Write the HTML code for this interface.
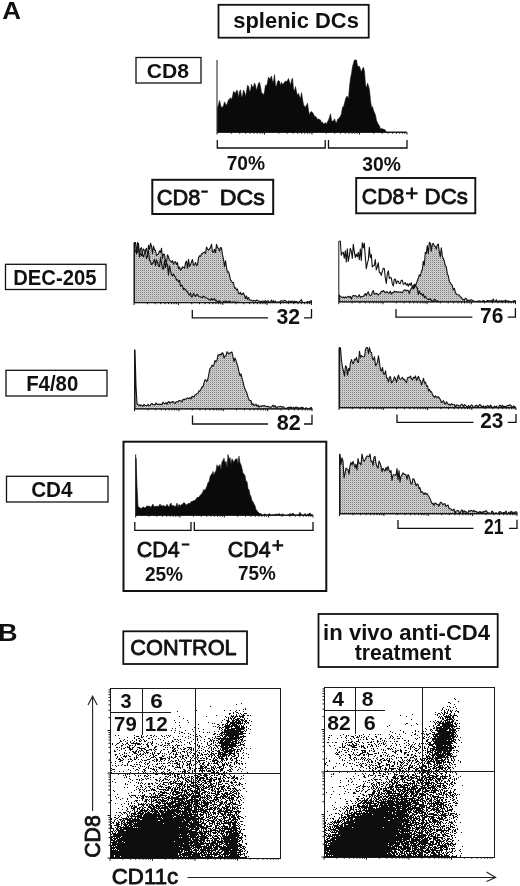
<!DOCTYPE html>
<html lang="en"><head><meta charset="utf-8"><title>Figure: splenic DC subsets</title>
<style>html,body{margin:0;padding:0;background:#fff}svg{display:block}text{font-family:"Liberation Sans", sans-serif;font-weight:bold;fill:#111}text.m{font-weight:normal;stroke:#111;stroke-width:.85px;stroke-linejoin:round}</style></head><body>
<svg width="520" height="886" viewBox="0 0 520 886">
<defs><pattern id="stip" width="2" height="2" patternUnits="userSpaceOnUse"><rect width="2" height="2" fill="#d0d0d0"/><rect width="1" height="1" fill="#848484"/><rect x="1" y="1" width="1" height="1" fill="#bdbdbd"/></pattern><filter id="soft" x="-2%" y="-2%" width="104%" height="104%"><feGaussianBlur stdDeviation="0.5"/></filter></defs>
<rect width="520" height="886" fill="#fff"/>
<text x="2.35" y="19" font-size="24" textLength="18.79" lengthAdjust="spacingAndGlyphs">A</text>
<text x="-2.06" y="641" font-size="24" textLength="19.57" lengthAdjust="spacingAndGlyphs">B</text>
<rect x="218.5" y="4.8" width="150.2" height="32.9" fill="#fff" stroke="#111" stroke-width="1.8"/>
<text x="233.23" y="27.9" font-size="21.5" textLength="125.63" lengthAdjust="spacingAndGlyphs">splenic DCs</text>
<rect x="136" y="57.5" width="65" height="25.5" fill="#fff" stroke="#111" stroke-width="1.3"/>
<text x="146.86" y="77.8" font-size="21" textLength="42.24" lengthAdjust="spacingAndGlyphs">CD8</text>
<path d="M217 60V132.3H407" fill="none" stroke="#1a1a1a" stroke-width="1"/>
<path d="M217 132.3v2.2M231.3 132.3v1.4M239.7 132.3v1.4M245.6 132.3v1.4M250.2 132.3v1.4M254 132.3v1.4M257.1 132.3v1.4M259.9 132.3v1.4M262.3 132.3v1.4M264.5 132.3v2.2M278.8 132.3v1.4M287.2 132.3v1.4M293.1 132.3v1.4M297.7 132.3v1.4M301.5 132.3v1.4M304.6 132.3v1.4M307.4 132.3v1.4M309.8 132.3v1.4M312 132.3v2.2M326.3 132.3v1.4M334.7 132.3v1.4M340.6 132.3v1.4M345.2 132.3v1.4M349 132.3v1.4M352.1 132.3v1.4M354.9 132.3v1.4M357.3 132.3v1.4M359.5 132.3v2.2M373.8 132.3v1.4M382.2 132.3v1.4M388.1 132.3v1.4M392.7 132.3v1.4M396.5 132.3v1.4M399.6 132.3v1.4M402.4 132.3v1.4M404.8 132.3v1.4M407 132.3v2.2" stroke="#111" stroke-width="1" fill="none"/>
<polygon points="217.5,132.3 217.5,107.9 218.5,104.9 219.5,100.5 220.5,104.5 221.5,108 222.5,106.7 223.5,105.9 224.5,101.9 225.5,103.7 226.5,105.4 227.5,103 228.5,99.8 229.5,99.3 230.5,97.8 231.5,99.4 232.5,96.6 233.5,91.4 234.5,92.2 235.5,93.5 236.5,90.4 237.5,90.8 238.5,97.7 239.5,91.8 240.5,89.8 241.5,97 242.5,95.9 243.5,90.1 244.5,92 245.5,96.5 246.5,91.8 247.5,85.4 248.5,86.1 249.5,91.2 250.5,91.1 251.5,84.3 252.5,87.1 253.5,87.1 254.5,83.1 255.5,85.2 256.5,90.5 257.5,87.2 258.5,83.2 259.5,82.3 260.5,86.5 261.5,93.3 262.5,93.3 263.5,95.2 264.5,92 265.5,85 266.5,86.3 267.5,82.2 268.5,76.9 269.5,78.9 270.5,78.3 271.5,76 272.5,81.5 273.5,81.6 274.5,74.6 275.5,85.7 276.5,86.4 277.5,81.4 278.5,80.5 279.5,81.3 280.5,85.6 281.5,82.4 282.5,84.3 283.5,84 284.5,82.1 285.5,81.1 286.5,81.6 287.5,80.5 288.5,78.5 289.5,82.1 290.5,85.3 291.5,80.3 292.5,78.2 293.5,89.1 294.5,90.9 295.5,86.6 296.5,91.7 297.5,95.4 298.5,93.5 299.5,96.5 300.5,98.5 301.5,92.6 302.5,98.9 303.5,104.7 304.5,106.3 305.5,107.2 306.5,105.2 307.5,103.2 308.5,110.3 309.5,115 310.5,112.2 311.5,111.5 312.5,112.5 313.5,114.3 314.5,116.2 315.5,116.6 316.5,117.4 317.5,119.5 318.5,119 319.5,119.6 320.5,120 321.5,122.7 322.5,122 323.5,124.1 324.5,123.6 325.5,122.7 326.5,124.2 327.5,121.8 328.5,120.2 329.5,117.2 330.5,113.8 331.5,120.2 332.5,121.2 333.5,121.1 334.5,118.8 335.5,122 336.5,122.9 337.5,119.5 338.5,119.1 339.5,117.2 340.5,116.6 341.5,113.4 342.5,107.1 343.5,107 344.5,103.2 345.5,99.2 346.5,96.6 347.5,96.6 348.5,99.1 349.5,86.5 350.5,78.5 351.5,73.6 352.5,66.7 353.5,63.1 354.5,60 355.5,60 356.5,60 357.5,66 358.5,66.5 359.5,66.4 360.5,69.8 361.5,72 362.5,68.6 363.5,67.3 364.5,71.6 365.5,84.8 366.5,87.9 367.5,83.3 368.5,85.7 369.5,90.5 370.5,100.6 371.5,107.5 372.5,106.6 373.5,110.6 374.5,112.6 375.5,115.2 376.5,120.5 377.5,122.7 378.5,124.5 379.5,126.1 380.5,129.3 381.5,128.5 382.5,128.9 383.5,129.2 384.5,129.6 385.5,130.2 386.5,132.3 387.5,131.9 388.5,132 389.5,132 390.5,132 391.5,132 392.5,132 393.5,132 394.5,132 395.5,132.1 396.5,132 397.5,132 398.5,132 399.5,132.1 400.5,132.1 401.5,132.1 402.5,132.1 403.5,132.1 404.5,132.1 405.5,132.1 406.5,132.1 406.5,132.3" fill="#0a0a0a" stroke="#111" stroke-width="0.6" stroke-linejoin="round"/>
<path d="M217.3 140V148H325.2V140 M328.5 140V148H407V140" fill="none" stroke="#111" stroke-width="1.3"/>
<text x="226.69" y="169.9" font-size="21" textLength="38.38" lengthAdjust="spacingAndGlyphs">70%</text>
<text x="362.37" y="170.9" font-size="21" textLength="38.60" lengthAdjust="spacingAndGlyphs">30%</text>
<rect x="152.3" y="179.8" width="120.9" height="34.2" fill="#fff" stroke="#111" stroke-width="2"/>
<text x="156.83" y="204.5" font-size="22.3" textLength="43.62" lengthAdjust="spacingAndGlyphs" class="m">CD8</text>
<path d="M201.3 191.6H207.8" stroke="#111" stroke-width="2.2"/>
<text x="219.87" y="204.5" font-size="22.3" textLength="45.10" lengthAdjust="spacingAndGlyphs" class="m">DCs</text>
<rect x="356.2" y="178" width="119.1" height="35.3" fill="#fff" stroke="#111" stroke-width="1.9"/>
<text x="361.87" y="204" font-size="22" textLength="42.37" lengthAdjust="spacingAndGlyphs" class="m">CD8</text>
<path d="M406 193.4H417.6M411.8 187.6V199.2" stroke="#111" stroke-width="2.3"/>
<text x="424.64" y="204" font-size="22" textLength="43.30" lengthAdjust="spacingAndGlyphs" class="m">DCs</text>
<rect x="5.5" y="264.3" width="100.5" height="25.2" fill="#fff" stroke="#111" stroke-width="1.3"/>
<text x="13.18" y="284.5" font-size="21.3" textLength="83.33" lengthAdjust="spacingAndGlyphs">DEC-205</text>
<rect x="6" y="370.3" width="101" height="25.7" fill="#fff" stroke="#111" stroke-width="1.3"/>
<text x="26.17" y="390.5" font-size="21.3" textLength="52.14" lengthAdjust="spacingAndGlyphs">F4/80</text>
<rect x="6.5" y="476.3" width="101.5" height="25.7" fill="#fff" stroke="#111" stroke-width="1.3"/>
<text x="31.17" y="497" font-size="21.3" textLength="41.39" lengthAdjust="spacingAndGlyphs">CD4</text>
<polygon points="134.5,302.5 134.5,242.5 135.5,242.5 136.5,253.9 137.5,242.5 138.5,248.5 139.5,253 140.5,253.7 141.5,255.8 142.5,251.2 143.5,248.9 144.5,250.9 145.5,251.1 146.5,258.7 147.5,256.2 148.5,245.4 149.5,249.4 150.5,243.2 151.5,246 152.5,253.8 153.5,246.1 154.5,249.7 155.5,250.5 156.5,255.4 157.5,254.3 158.5,253.9 159.5,250.9 160.5,252.6 161.5,248.2 162.5,258.6 163.5,253.9 164.5,254.5 165.5,260.8 166.5,262.9 167.5,254.8 168.5,256.8 169.5,260.1 170.5,260.9 171.5,262.2 172.5,260.7 173.5,264.2 174.5,262.3 175.5,261.6 176.5,264.5 177.5,262.6 178.5,268.8 179.5,266.9 180.5,270.5 181.5,268.9 182.5,266.8 183.5,267.4 184.5,268.3 185.5,262.8 186.5,261.1 187.5,268.3 188.5,259.4 189.5,266.4 190.5,264.8 191.5,261.8 192.5,259.5 193.5,265.1 194.5,264.9 195.5,262.4 196.5,265.6 197.5,264.7 198.5,257.8 199.5,255.8 200.5,256.5 201.5,254 202.5,253.3 203.5,252.8 204.5,252.1 205.5,253.5 206.5,247 207.5,249.1 208.5,250.1 209.5,248.9 210.5,247.5 211.5,244.3 212.5,252.2 213.5,252.2 214.5,249.3 215.5,252.6 216.5,244.2 217.5,247.6 218.5,248.4 219.5,251.1 220.5,247.5 221.5,248 222.5,254.9 223.5,259.4 224.5,266.7 225.5,260.7 226.5,267.5 227.5,272.2 228.5,271.7 229.5,275.1 230.5,279.9 231.5,281.1 232.5,282.8 233.5,282.5 234.5,288 235.5,287.7 236.5,289.9 237.5,289 238.5,293.4 239.5,293.6 240.5,292.3 241.5,294.8 242.5,294 243.5,293 244.5,295.5 245.5,298.5 246.5,295.9 247.5,299.4 248.5,297.6 249.5,299.8 250.5,300.1 251.5,300.4 252.5,300.9 253.5,300.5 254.5,300.6 255.5,301.3 256.5,300.1 257.5,300.6 258.5,300.9 259.5,301.2 260.5,301.5 261.5,301.5 262.5,301 263.5,301.2 264.5,301.5 265.5,300.7 266.5,301.8 267.5,301.1 268.5,300.9 269.5,302.5 270.5,301.9 271.5,300.1 272.5,302.4 273.5,300.6 274.5,302.5 275.5,301.2 276.5,302.5 277.5,302.1 278.5,302 279.5,302.1 280.5,300.8 281.5,301 282.5,300.9 283.5,301.5 284.5,300.2 285.5,300.8 286.5,301.4 287.5,302.5 288.5,301 289.5,301.2 290.5,301.6 291.5,301.2 292.5,301.1 293.5,302 294.5,301.2 295.5,301.5 296.5,301.5 297.5,302.1 298.5,302.2 299.5,301.7 300.5,300.6 301.5,299.7 302.5,302.2 303.5,302.5 304.5,302.2 305.5,302.5 306.5,302.2 307.5,301.5 308.5,302.5 309.5,301.3 310.5,301.2 311.5,300.6 311.5,302.5" fill="url(#stip)" stroke="#111" stroke-width="1.1" stroke-linejoin="round"/>
<polyline points="134.5,249 135.5,251.3 136.5,253.1 137.5,252.4 138.5,243.2 139.5,256.9 140.5,248.5 141.5,247.8 142.5,255.3 143.5,256.8 144.5,253.3 145.5,250.3 146.5,248.3 147.5,253.5 148.5,251.1 149.5,260.1 150.5,261.7 151.5,264.5 152.5,263.7 153.5,262.1 154.5,259.2 155.5,265.6 156.5,259.8 157.5,262.4 158.5,266 159.5,266.6 160.5,257.6 161.5,263.2 162.5,268.8 163.5,269.1 164.5,260 165.5,267.8 166.5,262.9 167.5,265.1 168.5,275.2 169.5,265.9 170.5,270.7 171.5,274.6 172.5,275.9 173.5,274 174.5,276.2 175.5,277.1 176.5,280.2 177.5,279.6 178.5,281.9 179.5,280.5 180.5,286.4 181.5,285.2 182.5,286 183.5,289.7 184.5,288.6 185.5,289.5 186.5,291.3 187.5,291.4 188.5,294.4 189.5,295.1 190.5,293.1 191.5,296.9 192.5,296.5 193.5,293.4 194.5,295 195.5,296.5 196.5,294.4 197.5,294.6 198.5,296.5 199.5,296.7 200.5,296.7 201.5,297.5 202.5,297.8 203.5,296.1 204.5,296.8 205.5,297.6 206.5,298.2 207.5,298.6 208.5,299 209.5,299.8 210.5,300.3 211.5,298.5 212.5,300.2 213.5,299.6 214.5,298.4 215.5,300.7 216.5,300.2 217.5,302.5 218.5,301.5 219.5,300.8 220.5,301.9 221.5,302.5 222.5,302.5 223.5,301.3 224.5,302.5 225.5,301 226.5,301.5 227.5,302.1 228.5,301.9 229.5,301.1 230.5,302 231.5,302.5 232.5,302 233.5,302.1 234.5,302.1 235.5,302.1 236.5,302.2 237.5,302.2 238.5,302.3 239.5,302.3" fill="none" stroke="#111" stroke-width="1.1" stroke-linejoin="round"/>
<path d="M134 242.5V302.8H311.5" fill="none" stroke="#1a1a1a" stroke-width="1"/>
<path d="M134 302.8v2.2M147.4 302.8v1.4M155.2 302.8v1.4M160.7 302.8v1.4M165 302.8v1.4M168.5 302.8v1.4M171.5 302.8v1.4M174.1 302.8v1.4M176.3 302.8v1.4M178.4 302.8v2.2M191.7 302.8v1.4M199.5 302.8v1.4M205.1 302.8v1.4M209.4 302.8v1.4M212.9 302.8v1.4M215.9 302.8v1.4M218.4 302.8v1.4M220.7 302.8v1.4M222.8 302.8v2.2M236.1 302.8v1.4M243.9 302.8v1.4M249.5 302.8v1.4M253.8 302.8v1.4M257.3 302.8v1.4M260.3 302.8v1.4M262.8 302.8v1.4M265.1 302.8v1.4M267.1 302.8v2.2M280.5 302.8v1.4M288.3 302.8v1.4M293.8 302.8v1.4M298.1 302.8v1.4M301.7 302.8v1.4M304.6 302.8v1.4M307.2 302.8v1.4M309.5 302.8v1.4M311.5 302.8v2.2" stroke="#111" stroke-width="1" fill="none"/>
<path d="M192.3 310V317.8H268 M304 317.8H311.5V309" fill="none" stroke="#111" stroke-width="1.3"/>
<text x="276.52" y="324" font-size="21.3" textLength="23.62" lengthAdjust="spacingAndGlyphs">32</text>
<polygon points="339.3,301.8 339.3,295.1 340.3,296.4 341.3,296.9 342.3,297.4 343.3,296.9 344.3,297.9 345.3,296.8 346.3,297.7 347.3,296.9 348.3,296.3 349.3,297.3 350.3,296.3 351.3,299.3 352.3,296.4 353.3,295.5 354.3,295.9 355.3,295.5 356.3,296.4 357.3,297.2 358.3,296.3 359.3,294.8 360.3,297.4 361.3,296.6 362.3,296.7 363.3,296.3 364.3,295.2 365.3,293.5 366.3,295.6 367.3,293 368.3,291.9 369.3,294.9 370.3,295.6 371.3,295.1 372.3,292.3 373.3,290.5 374.3,294.3 375.3,293.7 376.3,293.2 377.3,293.9 378.3,295.1 379.3,293.7 380.3,293.4 381.3,291.3 382.3,291.6 383.3,290.5 384.3,291.5 385.3,293 386.3,291.9 387.3,291.7 388.3,293.2 389.3,292.9 390.3,291.2 391.3,294.2 392.3,292.6 393.3,292.8 394.3,291.2 395.3,291.9 396.3,291.6 397.3,292.3 398.3,291.8 399.3,292.2 400.3,292.1 401.3,292.1 402.3,292.8 403.3,291.2 404.3,290.1 405.3,289.8 406.3,290.9 407.3,290.2 408.3,290.6 409.3,293.7 410.3,290.1 411.3,288.4 412.3,287.4 413.3,288.9 414.3,284.2 415.3,285.6 416.3,283.8 417.3,280.8 418.3,278.3 419.3,274.7 420.3,276.3 421.3,271.5 422.3,269.9 423.3,261.3 424.3,265.2 425.3,252.2 426.3,253.3 427.3,245.6 428.3,253.8 429.3,242.5 430.3,243.2 431.3,251.3 432.3,243.9 433.3,243.4 434.3,245.9 435.3,246.2 436.3,249.2 437.3,244.9 438.3,244 439.3,251.8 440.3,256.9 441.3,247.8 442.3,255.9 443.3,258.5 444.3,261.2 445.3,265.6 446.3,266.8 447.3,273.7 448.3,275.8 449.3,281.2 450.3,282.9 451.3,284 452.3,285.6 453.3,290 454.3,288.4 455.3,291.7 456.3,294.2 457.3,294.8 458.3,294.7 459.3,295.2 460.3,296.9 461.3,297.3 462.3,299.3 463.3,299.4 464.3,300.4 465.3,298.2 466.3,298.6 467.3,300.5 468.3,300.2 469.3,300.4 470.3,300 471.3,299.8 472.3,300.3 473.3,300.9 474.3,301.2 475.3,301.6 476.3,301.8 477.3,301 478.3,301.6 479.3,300.8 480.3,301 481.3,301.8 482.3,301.3 483.3,300.4 484.3,300.9 485.3,301.6 486.3,301.4 487.3,300.5 488.3,300.8 489.3,300.7 490.3,301.1 491.3,300.4 492.3,300.9 493.3,299.1 494.3,301.3 495.3,301.6 496.3,299.7 497.3,301.1 498.3,301.7 499.3,300.6 500.3,301.8 501.3,300.7 502.3,301.1 503.3,300.9 504.3,301.8 505.3,300.1 506.3,300.9 507.3,301.2 508.3,300.9 509.3,301.8 510.3,301.2 511.3,301.8 512.3,301.8 513.3,300.9 514.3,301 515.3,300.5 515.3,301.8" fill="url(#stip)" stroke="#111" stroke-width="1.1" stroke-linejoin="round"/>
<polyline points="339.3,241 340.3,241 341.3,255.3 342.3,252.9 343.3,252.3 344.3,258.2 345.3,250.9 346.3,262 347.3,248.8 348.3,261.5 349.3,255.9 350.3,248.4 351.3,251.2 352.3,258.5 353.3,244.4 354.3,251.6 355.3,257.5 356.3,254.1 357.3,256.8 358.3,252.4 359.3,259.6 360.3,249 361.3,260.4 362.3,242.7 363.3,247.8 364.3,243.1 365.3,257.1 366.3,268.7 367.3,263.4 368.3,260.1 369.3,247.4 370.3,257.6 371.3,254.6 372.3,266.9 373.3,265.6 374.3,265.5 375.3,259.5 376.3,269.9 377.3,266.8 378.3,262.7 379.3,272.6 380.3,272.6 381.3,275.4 382.3,271.4 383.3,268.2 384.3,268.5 385.3,278 386.3,283.4 387.3,273.8 388.3,270.8 389.3,278.4 390.3,277.4 391.3,277.9 392.3,283.7 393.3,285.9 394.3,279.4 395.3,279.1 396.3,283.7 397.3,281 398.3,281.2 399.3,283.4 400.3,283.6 401.3,280.2 402.3,280.2 403.3,284.3 404.3,283.9 405.3,282.5 406.3,285.1 407.3,283.7 408.3,286.3 409.3,283.6 410.3,285.1 411.3,282.8 412.3,287.3 413.3,285.6 414.3,288.1 415.3,285.1 416.3,286.6 417.3,288.2 418.3,294.6 419.3,291 420.3,293.9 421.3,293.6 422.3,295.5 423.3,293.9 424.3,297.7 425.3,296.3 426.3,298.2 427.3,298.9 428.3,299.4 429.3,299.5 430.3,298.6 431.3,300.1 432.3,301.6 433.3,301.1 434.3,299.4 435.3,299.5 436.3,301.8 437.3,300.8 438.3,301.4 439.3,301.6" fill="none" stroke="#111" stroke-width="1.1" stroke-linejoin="round"/>
<path d="M338.8 241V302H515.5" fill="none" stroke="#1a1a1a" stroke-width="1"/>
<path d="M338.8 302v2.2M352.1 302v1.4M359.9 302v1.4M365.4 302v1.4M369.7 302v1.4M373.2 302v1.4M376.1 302v1.4M378.7 302v1.4M381 302v1.4M383 302v2.2M396.3 302v1.4M404.1 302v1.4M409.6 302v1.4M413.9 302v1.4M417.3 302v1.4M420.3 302v1.4M422.9 302v1.4M425.1 302v1.4M427.1 302v2.2M440.4 302v1.4M448.2 302v1.4M453.7 302v1.4M458 302v1.4M461.5 302v1.4M464.5 302v1.4M467 302v1.4M469.3 302v1.4M471.3 302v2.2M484.6 302v1.4M492.4 302v1.4M497.9 302v1.4M502.2 302v1.4M505.7 302v1.4M508.7 302v1.4M511.2 302v1.4M513.5 302v1.4M515.5 302v2.2" stroke="#111" stroke-width="1" fill="none"/>
<path d="M396 309V317.2H472.4 M507.7 317.2H515.4V308" fill="none" stroke="#111" stroke-width="1.3"/>
<text x="480.11" y="322.6" font-size="21.3" textLength="23.32" lengthAdjust="spacingAndGlyphs">76</text>
<polygon points="135,408.8 135,350 136,386.6 137,403.4 138,405 139,404.7 140,405.9 141,404.8 142,405.7 143,406.3 144,404.4 145,405.5 146,405.5 147,405.7 148,404.3 149,405.8 150,405.4 151,404.2 152,403.4 153,404.8 154,404.5 155,405 156,402.8 157,404.2 158,404.4 159,403.9 160,404.8 161,404 162,404.6 163,402.2 164,403.3 165,403.6 166,402.6 167,404.2 168,402 169,401.6 170,403.3 171,402 172,402.5 173,401.3 174,402.9 175,403.5 176,401.7 177,401.9 178,401.8 179,400.6 180,400.7 181,400.9 182,401.8 183,399.3 184,399.7 185,399 186,399.2 187,398.1 188,398.1 189,398.7 190,397.6 191,399 192,396.4 193,396.6 194,397.1 195,394.9 196,394.8 197,393.5 198,393.2 199,390.7 200,391 201,389 202,386.7 203,386.9 204,382.9 205,379.7 206,380.3 207,381.4 208,378.5 209,373.3 210,368.4 211,367.6 212,365.1 213,366.1 214,364.5 215,360.5 216,361.8 217,360.3 218,354.9 219,355.2 220,354 221,355.1 222,352.9 223,353.1 224,358 225,355.9 226,355.7 227,351.7 228,353 229,354 230,352.8 231,352.4 232,352.1 233,357 234,361.5 235,358 236,360.6 237,363.8 238,367.1 239,371.9 240,375.6 241,373.9 242,378.1 243,381.7 244,386.1 245,389 246,391.2 247,393.4 248,397.1 249,399.5 250,400.7 251,400.5 252,404.9 253,403.7 254,405.4 255,405.2 256,404.1 257,406.3 258,405 259,407.2 260,406.1 261,406.5 262,405.7 263,406.1 264,405.6 265,406 266,406.1 267,406.9 268,406.2 269,407 270,407.1 271,407.3 272,406.4 273,405.2 274,406.9 275,405.6 276,407.6 277,407.4 278,406.8 279,406.8 280,406.5 281,406.3 282,407.4 283,406.6 284,407.3 285,408.8 286,408.2 287,408 288,407.6 289,407.2 290,407.9 291,406.8 292,408.4 293,407.8 294,407.2 295,408.6 296,407 297,407.2 298,408 299,407.9 300,408 301,407.9 302,407.2 303,407.6 304,408.8 305,408.8 306,407.7 307,408.8 308,408.8 309,408.7 310,408.3 311,407.3 312,408.3 312,408.8" fill="url(#stip)" stroke="#111" stroke-width="1.1" stroke-linejoin="round"/>
<path d="M134.5 349.5V409H312" fill="none" stroke="#1a1a1a" stroke-width="1"/>
<path d="M134.5 409v2.2M147.9 409v1.4M155.7 409v1.4M161.2 409v1.4M165.5 409v1.4M169 409v1.4M172 409v1.4M174.6 409v1.4M176.8 409v1.4M178.9 409v2.2M192.2 409v1.4M200 409v1.4M205.6 409v1.4M209.9 409v1.4M213.4 409v1.4M216.4 409v1.4M218.9 409v1.4M221.2 409v1.4M223.2 409v2.2M236.6 409v1.4M244.4 409v1.4M250 409v1.4M254.3 409v1.4M257.8 409v1.4M260.8 409v1.4M263.3 409v1.4M265.6 409v1.4M267.6 409v2.2M281 409v1.4M288.8 409v1.4M294.3 409v1.4M298.6 409v1.4M302.2 409v1.4M305.1 409v1.4M307.7 409v1.4M310 409v1.4M312 409v2.2" stroke="#111" stroke-width="1" fill="none"/>
<path d="M192.5 415.5V424H268 M304 424H312V414.7" fill="none" stroke="#111" stroke-width="1.3"/>
<text x="276.85" y="430" font-size="21.3" textLength="24.01" lengthAdjust="spacingAndGlyphs">82</text>
<polygon points="339.5,407.6 339.5,347.5 340.5,347.9 341.5,361 342.5,367 343.5,371.2 344.5,376.1 345.5,365.8 346.5,366.9 347.5,375.2 348.5,368.5 349.5,370.6 350.5,362.4 351.5,359.6 352.5,363.2 353.5,363.4 354.5,359.2 355.5,360 356.5,357.4 357.5,361.9 358.5,362.5 359.5,351.4 360.5,357.4 361.5,355.6 362.5,356.4 363.5,356.8 364.5,356.7 365.5,349.2 366.5,347.5 367.5,347.5 368.5,353.6 369.5,347.5 370.5,352.2 371.5,352.5 372.5,358.9 373.5,359.9 374.5,356.7 375.5,365.5 376.5,364.8 377.5,361.6 378.5,355.9 379.5,362.5 380.5,370.3 381.5,371 382.5,367.5 383.5,374 384.5,374.3 385.5,370.8 386.5,377.7 387.5,378.2 388.5,382 389.5,377.1 390.5,376.7 391.5,383 392.5,381.8 393.5,379.8 394.5,376.7 395.5,378.7 396.5,382.4 397.5,378 398.5,375 399.5,378.8 400.5,379.2 401.5,378.6 402.5,377.3 403.5,379.6 404.5,379.3 405.5,381.5 406.5,382.7 407.5,377.7 408.5,377.3 409.5,377.3 410.5,376.1 411.5,378.8 412.5,380 413.5,377.3 414.5,378 415.5,375.9 416.5,380.6 417.5,378.3 418.5,376.2 419.5,380.1 420.5,380.6 421.5,384.9 422.5,381.9 423.5,378.3 424.5,383.2 425.5,382.1 426.5,386.2 427.5,385.7 428.5,391 429.5,389.4 430.5,391.7 431.5,391.7 432.5,394.6 433.5,395.8 434.5,397.5 435.5,395.9 436.5,397.3 437.5,397.1 438.5,396.9 439.5,398.4 440.5,399.8 441.5,402.5 442.5,402.1 443.5,400.6 444.5,403.5 445.5,404 446.5,401.7 447.5,403.4 448.5,404.6 449.5,404.4 450.5,405.2 451.5,403.7 452.5,404.5 453.5,404.8 454.5,404.5 455.5,407.3 456.5,405.1 457.5,405 458.5,405.6 459.5,406.3 460.5,405.5 461.5,404.1 462.5,404.9 463.5,406.4 464.5,404.6 465.5,405.3 466.5,406.4 467.5,407.6 468.5,405.5 469.5,407.5 470.5,405.9 471.5,404.9 472.5,405.6 473.5,407.2 474.5,407.2 475.5,405.6 476.5,405.2 477.5,406.4 478.5,406.6 479.5,404.5 480.5,404.9 481.5,406.3 482.5,407 483.5,405.9 484.5,407.6 485.5,406.3 486.5,406.5 487.5,405.6 488.5,406.1 489.5,407.6 490.5,405 491.5,406.1 492.5,407.6 493.5,407.6 494.5,406.1 495.5,407.6 496.5,406.1 497.5,407.6 498.5,407.6 499.5,405.3 500.5,405.2 501.5,407.2 502.5,405.3 503.5,406.5 504.5,406.3 505.5,407 506.5,406.3 507.5,405.5 508.5,405.4 509.5,404.9 510.5,405.1 511.5,406.2 512.5,407.4 513.5,406 514.5,406.3 515.5,407.3 515.5,407.6" fill="url(#stip)" stroke="#111" stroke-width="1.1" stroke-linejoin="round"/>
<path d="M339 347.5V407.8H516" fill="none" stroke="#1a1a1a" stroke-width="1"/>
<path d="M339 407.8v2.2M352.3 407.8v1.4M360.1 407.8v1.4M365.6 407.8v1.4M369.9 407.8v1.4M373.4 407.8v1.4M376.4 407.8v1.4M379 407.8v1.4M381.2 407.8v1.4M383.2 407.8v2.2M396.6 407.8v1.4M404.4 407.8v1.4M409.9 407.8v1.4M414.2 407.8v1.4M417.7 407.8v1.4M420.6 407.8v1.4M423.2 407.8v1.4M425.5 407.8v1.4M427.5 407.8v2.2M440.8 407.8v1.4M448.6 407.8v1.4M454.1 407.8v1.4M458.4 407.8v1.4M461.9 407.8v1.4M464.9 407.8v1.4M467.5 407.8v1.4M469.7 407.8v1.4M471.8 407.8v2.2M485.1 407.8v1.4M492.9 407.8v1.4M498.4 407.8v1.4M502.7 407.8v1.4M506.2 407.8v1.4M509.1 407.8v1.4M511.7 407.8v1.4M514 407.8v1.4M516 407.8v2.2" stroke="#111" stroke-width="1" fill="none"/>
<path d="M397 414.5V422.3H473.5 M507.7 422.3H516V414" fill="none" stroke="#111" stroke-width="1.3"/>
<text x="480.33" y="427.8" font-size="21.3" textLength="23.10" lengthAdjust="spacingAndGlyphs">23</text>
<rect x="123.5" y="441.7" width="202.8" height="149.3" fill="#fff" stroke="#111" stroke-width="2"/>
<path d="M135.7 454.5V515.3H313" fill="none" stroke="#1a1a1a" stroke-width="1"/>
<path d="M135.7 515.3v2.2M149 515.3v1.4M156.8 515.3v1.4M162.4 515.3v1.4M166.7 515.3v1.4M170.2 515.3v1.4M173.2 515.3v1.4M175.7 515.3v1.4M178 515.3v1.4M180 515.3v2.2M193.4 515.3v1.4M201.2 515.3v1.4M206.7 515.3v1.4M211 515.3v1.4M214.5 515.3v1.4M217.5 515.3v1.4M220.1 515.3v1.4M222.3 515.3v1.4M224.3 515.3v2.2M237.7 515.3v1.4M245.5 515.3v1.4M251 515.3v1.4M255.3 515.3v1.4M258.8 515.3v1.4M261.8 515.3v1.4M264.4 515.3v1.4M266.6 515.3v1.4M268.7 515.3v2.2M282 515.3v1.4M289.8 515.3v1.4M295.4 515.3v1.4M299.7 515.3v1.4M303.2 515.3v1.4M306.1 515.3v1.4M308.7 515.3v1.4M311 515.3v1.4M313 515.3v2.2" stroke="#111" stroke-width="1" fill="none"/>
<polygon points="136,515.3 136,458.2 137,485.8 138,506.2 139,507.3 140,508.1 141,508.6 142,507.9 143,507.1 144,507.2 145,508.3 146,507 147,505.7 148,506.2 149,506.3 150,506.3 151,507.5 152,505.6 153,504.1 154,506.7 155,506.7 156,506.1 157,506.3 158,506.5 159,505.9 160,504.1 161,505.7 162,505.8 163,506.1 164,505.4 165,506.4 166,506.6 167,504.3 168,506.1 169,506.9 170,504.5 171,503.1 172,505.9 173,505.4 174,505.9 175,506.5 176,506 177,503.1 178,507.6 179,504.3 180,506.1 181,504.7 182,505 183,503.4 184,502.4 185,503.4 186,505 187,504.8 188,503.6 189,503.3 190,503.7 191,501.6 192,502 193,500.8 194,500.8 195,500.3 196,499.4 197,497.5 198,497.3 199,497.3 200,495.5 201,494.5 202,493.4 203,491.4 204,489.3 205,490.8 206,488.3 207,486.1 208,482.4 209,482.2 210,476.9 211,474.7 212,474.3 213,471.4 214,475.2 215,472.1 216,471.1 217,464.8 218,467.2 219,465.9 220,464.5 221,469.8 222,461.8 223,460.4 224,458.2 225,463.5 226,461.3 227,467.8 228,454.5 229,459.7 230,457.5 231,464.2 232,458.8 233,460.8 234,462.4 235,459.6 236,459.5 237,458.4 238,464 239,456.2 240,463 241,464.7 242,468.4 243,473.4 244,473.9 245,475.7 246,481.5 247,481.5 248,488.7 249,489.8 250,494.7 251,496.7 252,500.8 253,501.8 254,504 255,505.8 256,509.5 257,510.5 258,512.3 259,512.7 260,513.7 261,513.5 262,514.6 263,515.2 264,514.1 265,513.9 266,514.3 267,515.3 268,514.5 269,513.8 270,514.1 271,514.9 272,514.7 273,514.7 274,514.2 275,514.7 276,514 277,514.2 278,514.4 279,513.8 280,513.8 281,514.8 282,514.6 283,513.7 284,514.8 285,515.3 286,514.9 287,515.3 288,514.6 289,514.4 290,513.4 291,514.2 292,514.1 293,513.3 294,513.9 295,515.3 296,514.7 297,515 298,514.7 299,513.7 300,512.3 301,514 302,514.4 303,515.3 304,514.4 305,513.4 306,515.3 307,514.3 308,514.1 309,514 310,512.8 311,514.7 312,514.5 313,515.3 313,515.3" fill="#0a0a0a" stroke="#111" stroke-width="0.6" stroke-linejoin="round"/>
<path d="M134.8 522V530.3H191V522 M194.3 522V530.3H313V522" fill="none" stroke="#111" stroke-width="1.3"/>
<text x="136.75" y="557.2" font-size="21.7" textLength="43.03" lengthAdjust="spacingAndGlyphs" class="m">CD4</text>
<path d="M181.8 544.5H189.3" stroke="#111" stroke-width="2.1"/>
<text x="144.88" y="581.3" font-size="21" textLength="38.18" lengthAdjust="spacingAndGlyphs">25%</text>
<text x="227.65" y="556.6" font-size="21.7" textLength="43.03" lengthAdjust="spacingAndGlyphs" class="m">CD4</text>
<path d="M272.4 545.3H283.2M277.8 539.9V550.7" stroke="#111" stroke-width="2.2"/>
<text x="238.00" y="580.2" font-size="21" textLength="37.75" lengthAdjust="spacingAndGlyphs">75%</text>
<polygon points="340,513.6 340,454 341,464.3 342,457.8 343,461.1 344,477.8 345,473.5 346,468.1 347,469.1 348,469.5 349,474.2 350,465.9 351,462.4 352,465 353,461.5 354,464.2 355,467.9 356,464.2 357,469.9 358,458.5 359,463.5 360,463 361,464.9 362,454 363,458.9 364,461.4 365,460 366,457.7 367,456 368,456.2 369,456.9 370,454 371,461.4 372,461 373,465.5 374,457.3 375,456.3 376,463.5 377,466.7 378,468 379,461 380,463.3 381,465.9 382,471.8 383,468.3 384,469.9 385,471.2 386,467.5 387,470.4 388,466.3 389,469.9 390,472.4 391,470.5 392,480.5 393,475 394,474.8 395,474.7 396,475.5 397,468.5 398,479.7 399,470.5 400,482.1 401,476.3 402,474.9 403,472.8 404,474.5 405,474.2 406,474.9 407,479.4 408,474.6 409,476.1 410,479.5 411,484.2 412,483.3 413,478.6 414,479.4 415,482 416,485.7 417,484.1 418,484.4 419,488.8 420,487.6 421,492.7 422,491.7 423,492.7 424,494.6 425,492.7 426,494.3 427,493.5 428,495.3 429,496.8 430,498.6 431,501.1 432,503.5 433,503.3 434,505.5 435,502.9 436,503.5 437,504.5 438,504.6 439,506.1 440,503 441,502.2 442,503.5 443,504.8 444,503.7 445,503.8 446,506.5 447,505.4 448,505 449,508.3 450,508.7 451,509.1 452,510.1 453,510.4 454,509 455,513.6 456,511 457,510.8 458,510.4 459,511.7 460,513.5 461,511.1 462,509.7 463,513.1 464,510.6 465,512 466,511.6 467,513.2 468,512.3 469,510.6 470,511.4 471,510.3 472,510.7 473,511.6 474,510.4 475,511.8 476,511.3 477,512.5 478,512 479,512.8 480,511.3 481,513.6 482,511.8 483,512.6 484,511.3 485,511.7 486,510.6 487,511.7 488,513.6 489,512.6 490,513.6 491,513.3 492,511.1 493,512 494,513.4 495,513.6 496,512.6 497,513.6 498,513.5 499,512.5 500,511.5 501,512.1 502,513.6 503,512.5 504,512.6 505,512.4 506,511 507,513.6 508,513.5 509,512.2 510,513.6 511,511.2 512,512.5 513,512.1 514,513.6 515,512.1 516,511.7 517,512.7 517,513.6" fill="url(#stip)" stroke="#111" stroke-width="1.1" stroke-linejoin="round"/>
<path d="M339.5 454V513.8H517" fill="none" stroke="#1a1a1a" stroke-width="1"/>
<path d="M339.5 513.8v2.2M352.9 513.8v1.4M360.7 513.8v1.4M366.2 513.8v1.4M370.5 513.8v1.4M374 513.8v1.4M377 513.8v1.4M379.6 513.8v1.4M381.8 513.8v1.4M383.9 513.8v2.2M397.2 513.8v1.4M405 513.8v1.4M410.6 513.8v1.4M414.9 513.8v1.4M418.4 513.8v1.4M421.4 513.8v1.4M423.9 513.8v1.4M426.2 513.8v1.4M428.2 513.8v2.2M441.6 513.8v1.4M449.4 513.8v1.4M455 513.8v1.4M459.3 513.8v1.4M462.8 513.8v1.4M465.8 513.8v1.4M468.3 513.8v1.4M470.6 513.8v1.4M472.6 513.8v2.2M486 513.8v1.4M493.8 513.8v1.4M499.3 513.8v1.4M503.6 513.8v1.4M507.2 513.8v1.4M510.1 513.8v1.4M512.7 513.8v1.4M515 513.8v1.4M517 513.8v2.2" stroke="#111" stroke-width="1" fill="none"/>
<path d="M398 520V528.3H473.5 M509 528.3H517V519.7" fill="none" stroke="#111" stroke-width="1.3"/>
<text x="483.93" y="534" font-size="21.3" textLength="19.55" lengthAdjust="spacingAndGlyphs">21</text>
<rect x="123.3" y="631.3" width="123.7" height="32.7" fill="#fff" stroke="#111" stroke-width="1.8"/>
<text x="130.34" y="654.6" font-size="22" textLength="106.33" lengthAdjust="spacingAndGlyphs" class="m">CONTROL</text>
<rect x="318.5" y="614" width="179.2" height="53" fill="#fff" stroke="#111" stroke-width="1.8"/>
<text x="323.11" y="640.4" font-size="21.5" textLength="166.99" lengthAdjust="spacingAndGlyphs">in vivo anti-CD4</text>
<text x="354.79" y="659.8" font-size="21.5" textLength="96.41" lengthAdjust="spacingAndGlyphs">treatment</text>
<path d="M241 703.5h1M236 704.5h1M210 706.5h1M163 708.5h1m81 0h1M243 709.5h1m1 0h1M196 710.5h1m27 0h1m5 0h1m5 0h1m2 0h1M110 711.5h1m66 0h1m57 0h1m7 0h1M233 712.5h1m2 0h2M151 713.5h1m77 0h2m2 0h1m4 0h1m1 0h1m3 0h3M229 714.5h1m6 0h1m4 0h1m1 0h1M216 715.5h1m14 0h1m1 0h1m2 0h1m2 0h1m2 0h3m2 0h2m1 0h1M115 716.5h1m63 0h1m26 0h1m18 0h1m5 0h3m1 0h3m1 0h5M226 717.5h1m1 0h1m1 0h1m1 0h1m1 0h2m4 0h1m1 0h2M183 718.5h1m44 0h1m1 0h2m1 0h2m2 0h3m4 0h1m2 0h1M224 719.5h1m3 0h1m2 0h1m1 0h1m1 0h4m1 0h3m1 0h1M141 720.5h1m27 0h1m4 0h1m12 0h1m34 0h1m3 0h3m3 0h3m1 0h4m1 0h3m1 0h2m2 0h1M168 721.5h1m58 0h3m2 0h2m1 0h2m1 0h3m1 0h1m1 0h3m4 0h1M149 722.5h1m17 0h1m7 0h1m3 0h1m8 0h1m19 0h1m12 0h1m5 0h2m1 0h11m1 0h1m2 0h1m1 0h2M212 723.5h1m1 0h1m11 0h2m2 0h5m1 0h7m1 0h1m1 0h1m1 0h1M127 724.5h1m29 0h1m6 0h1m33 0h1m18 0h2m3 0h2m1 0h1m1 0h1m1 0h2m1 0h5m1 0h1m1 0h1m3 0h1M121 725.5h1m57 0h1m39 0h1m2 0h1m2 0h5m1 0h7m1 0h1m1 0h1m1 0h1m6 0h1M156 726.5h1m56 0h1m1 0h1m2 0h1m5 0h9m1 0h6m1 0h3m2 0h1M156 727.5h1m23 0h1m13 0h1m22 0h1m1 0h2m1 0h2m1 0h5m1 0h1m3 0h5m1 0h4m1 0h1M119 728.5h1m11 0h1m40 0h1m2 0h1m22 0h1m20 0h1m1 0h1m3 0h4m2 0h14m3 0h1M128 729.5h1m15 0h1m16 0h1m30 0h1m10 0h1m15 0h1m2 0h1m1 0h2m1 0h8m1 0h8m2 0h1m3 0h1M110 730.5h1m12 0h1m19 0h1m7 0h1m1 0h1m12 0h2m3 0h1m3 0h1m9 0h1m35 0h1m2 0h17m3 0h1m1 0h1M126 731.5h1m6 0h1m20 0h1m5 0h1m2 0h1m5 0h1m9 0h1m13 0h1m5 0h1m14 0h1m3 0h1m3 0h1m1 0h20m1 0h1M123 732.5h1m1 0h1m6 0h1m11 0h1m29 0h1m6 0h2m20 0h1m3 0h1m1 0h1m11 0h18m1 0h3M133 733.5h1m4 0h1m5 0h1m34 0h1m4 0h1m3 0h1m25 0h2m4 0h3m1 0h1m1 0h20m3 0h1M130 734.5h1m4 0h1m2 0h1m5 0h3m6 0h1m36 0h1m5 0h1m16 0h2m2 0h1m1 0h1m1 0h1m1 0h20M115 735.5h1m2 0h1m15 0h1m6 0h1m5 0h1m2 0h2m2 0h1m6 0h1m4 0h1m1 0h1m1 0h1m22 0h1m5 0h1m20 0h3m2 0h14m4 0h1M136 736.5h3m2 0h1m1 0h1m2 0h1m6 0h1m2 0h1m5 0h1m1 0h1m4 0h1m8 0h1m3 0h1m5 0h1m7 0h2m2 0h1m4 0h1m9 0h1m1 0h3m2 0h1m1 0h3m1 0h6m1 0h4m1 0h6M110 737.5h1m16 0h1m6 0h1m6 0h2m8 0h1m15 0h1m5 0h1m11 0h1m4 0h1m10 0h1m10 0h1m2 0h1m4 0h1m2 0h3m1 0h1m1 0h13m1 0h1M110 738.5h1m8 0h1m14 0h1m3 0h2m8 0h2m8 0h1m5 0h1m23 0h1m8 0h1m10 0h2m4 0h1m1 0h24m2 0h1M124 739.5h1m11 0h1m3 0h1m2 0h1m8 0h1m2 0h1m4 0h1m13 0h2m1 0h1m2 0h1m12 0h1m3 0h1m6 0h1m5 0h1m1 0h1m5 0h2m1 0h16m1 0h1m1 0h3M120 740.5h1m2 0h1m3 0h1m4 0h1m3 0h1m2 0h1m1 0h1m2 0h1m1 0h1m16 0h1m8 0h1m5 0h1m5 0h1m12 0h1m2 0h1m9 0h2m1 0h2m1 0h2m2 0h4m1 0h8m2 0h3m1 0h1m1 0h2m1 0h2M110 741.5h1m9 0h2m3 0h1m4 0h1m3 0h1m4 0h2m3 0h2m6 0h1m15 0h1m3 0h2m2 0h1m3 0h1m10 0h1m12 0h1m4 0h1m1 0h1m1 0h1m4 0h1m1 0h3m1 0h7m1 0h5m1 0h1m2 0h1m1 0h1M110 742.5h1m8 0h1m7 0h1m2 0h1m2 0h1m2 0h1m11 0h1m1 0h1m1 0h1m8 0h1m3 0h1m5 0h1m6 0h1m2 0h1m5 0h1m1 0h1m5 0h1m2 0h1m8 0h1m5 0h1m1 0h1m2 0h16m1 0h2m1 0h3m1 0h1M112 743.5h1m4 0h2m3 0h1m3 0h2m3 0h9m1 0h1m5 0h1m3 0h2m3 0h1m8 0h1m1 0h3m19 0h1m4 0h1m6 0h1m5 0h1m3 0h1m1 0h1m3 0h1m1 0h11m1 0h8m1 0h1m3 0h1M112 744.5h1m3 0h1m6 0h1m1 0h1m2 0h1m6 0h1m1 0h4m2 0h1m2 0h2m3 0h1m6 0h1m3 0h1m5 0h1m7 0h1m7 0h1m5 0h1m6 0h1m9 0h1m2 0h2m3 0h1m5 0h15m4 0h4M110 745.5h1m4 0h1m5 0h2m6 0h2m1 0h1m2 0h1m11 0h2m3 0h1m7 0h2m2 0h2m1 0h1m1 0h1m2 0h1m2 0h1m1 0h3m1 0h1m13 0h1m1 0h1m1 0h1m8 0h2m3 0h1m1 0h2m1 0h2m1 0h16m1 0h3m2 0h2M121 746.5h1m5 0h1m1 0h1m4 0h1m6 0h1m5 0h2m6 0h2m6 0h1m9 0h1m3 0h1m20 0h2m2 0h1m3 0h1m3 0h1m5 0h2m2 0h4m1 0h3m1 0h7m1 0h1M110 747.5h1m5 0h2m1 0h1m5 0h1m1 0h3m2 0h2m3 0h3m5 0h1m2 0h1m5 0h2m9 0h1m1 0h1m2 0h1m1 0h2m3 0h1m5 0h1m3 0h5m7 0h1m4 0h1m4 0h1m1 0h1m2 0h1m2 0h1m3 0h12m3 0h1m1 0h1m2 0h1m2 0h1M110 748.5h1m10 0h1m1 0h2m4 0h2m1 0h1m6 0h6m9 0h1m17 0h1m1 0h2m2 0h1m1 0h1m3 0h2m3 0h1m1 0h1m1 0h1m4 0h1m2 0h1m6 0h1m2 0h1m1 0h1m1 0h1m2 0h1m1 0h1m1 0h7m2 0h3m7 0h2m3 0h1m3 0h1M117 749.5h1m3 0h1m7 0h4m4 0h1m3 0h1m2 0h2m3 0h3m1 0h1m1 0h2m6 0h2m2 0h1m5 0h2m6 0h1m1 0h2m3 0h1m1 0h2m1 0h1m1 0h1m7 0h1m7 0h1m1 0h1m6 0h1m1 0h6m1 0h3m1 0h3m1 0h3m1 0h1M114 750.5h1m4 0h1m5 0h1m4 0h1m5 0h1m2 0h1m1 0h2m3 0h3m2 0h1m2 0h1m6 0h1m10 0h2m1 0h1m1 0h1m9 0h1m3 0h1m1 0h1m3 0h1m1 0h1m1 0h1m3 0h1m1 0h1m3 0h1m3 0h2m1 0h2m1 0h3m1 0h10m2 0h1m2 0h1m2 0h1M110 751.5h1m3 0h2m16 0h2m1 0h2m1 0h1m1 0h1m2 0h1m2 0h1m8 0h1m4 0h1m7 0h1m3 0h4m6 0h3m1 0h1m3 0h1m5 0h1m8 0h1m2 0h2m2 0h2m3 0h3m3 0h10m1 0h1m1 0h3m1 0h1M110 752.5h1m13 0h1m4 0h1m3 0h3m2 0h1m5 0h1m1 0h3m3 0h1m1 0h1m5 0h1m7 0h1m2 0h1m4 0h1m1 0h1m1 0h1m3 0h1m2 0h1m1 0h1m1 0h1m6 0h2m3 0h1m5 0h1m1 0h1m6 0h5m1 0h4m1 0h3m2 0h1m1 0h1m6 0h1M110 753.5h1m8 0h1m4 0h1m1 0h1m7 0h3m3 0h1m2 0h1m1 0h1m1 0h1m2 0h1m1 0h1m1 0h1m2 0h3m2 0h1m1 0h1m5 0h1m2 0h1m2 0h1m3 0h1m6 0h1m2 0h1m2 0h2m4 0h1m1 0h1m5 0h1m3 0h3m1 0h2m1 0h3m1 0h4m2 0h7m2 0h2m3 0h1m3 0h1M110 754.5h1m4 0h2m5 0h1m9 0h1m4 0h1m1 0h2m1 0h2m8 0h2m4 0h1m7 0h1m2 0h1m3 0h1m1 0h3m3 0h1m5 0h1m6 0h1m2 0h1m3 0h2m1 0h3m1 0h1m1 0h2m1 0h2m3 0h10m1 0h2m2 0h2m3 0h1m9 0h1M110 755.5h1m4 0h1m4 0h1m3 0h1m1 0h1m1 0h1m7 0h1m1 0h1m2 0h1m3 0h1m4 0h1m2 0h1m1 0h2m5 0h1m1 0h1m10 0h1m6 0h2m1 0h1m1 0h2m3 0h2m3 0h2m1 0h1m1 0h1m6 0h1m1 0h2m1 0h1m2 0h2m1 0h1m1 0h5m1 0h2m1 0h1m2 0h2m2 0h1m4 0h1M110 756.5h1m6 0h1m5 0h4m2 0h2m5 0h1m3 0h1m8 0h1m3 0h2m7 0h2m5 0h1m1 0h1m3 0h2m2 0h2m1 0h2m4 0h1m4 0h1m1 0h1m1 0h1m7 0h1m2 0h2m1 0h1m3 0h1m2 0h7m1 0h1m1 0h1m3 0h3m3 0h1M110 757.5h1m6 0h1m3 0h1m3 0h1m8 0h1m1 0h2m5 0h1m2 0h1m4 0h3m1 0h1m3 0h3m5 0h1m1 0h1m1 0h2m1 0h2m4 0h1m1 0h1m2 0h2m3 0h1m1 0h1m3 0h1m1 0h1m3 0h1m3 0h1m4 0h1m2 0h1m1 0h1m1 0h2m1 0h2m3 0h1m4 0h1m4 0h2m3 0h1m6 0h1M110 758.5h1m5 0h1m2 0h1m2 0h1m7 0h1m3 0h1m1 0h1m13 0h1m5 0h1m3 0h6m2 0h2m3 0h1m3 0h1m4 0h2m2 0h1m4 0h1m2 0h2m1 0h1m2 0h2m1 0h2m1 0h2m5 0h2m2 0h1m1 0h5m1 0h3m2 0h2m2 0h3m4 0h1m1 0h1M110 759.5h1m7 0h3m2 0h1m4 0h1m1 0h2m2 0h2m2 0h1m2 0h1m5 0h3m4 0h1m1 0h2m2 0h3m2 0h1m3 0h1m8 0h1m2 0h1m2 0h1m5 0h1m6 0h1m8 0h1m2 0h2m2 0h1m1 0h2m4 0h3m2 0h2m2 0h1m1 0h1m3 0h1M110 760.5h1m9 0h3m9 0h1m9 0h1m1 0h3m5 0h2m2 0h2m2 0h1m3 0h1m3 0h1m2 0h1m3 0h2m1 0h1m6 0h1m4 0h1m1 0h2m4 0h7m7 0h6m3 0h2m1 0h1m1 0h1m4 0h2m3 0h2m1 0h1M110 761.5h1m4 0h1m3 0h2m7 0h2m1 0h1m8 0h1m8 0h1m4 0h1m1 0h1m2 0h1m1 0h1m8 0h1m1 0h2m1 0h1m3 0h2m1 0h1m1 0h1m2 0h4m5 0h1m1 0h2m6 0h1m3 0h1m1 0h3m2 0h2m1 0h1m1 0h1m12 0h2m4 0h1M110 762.5h2m10 0h1m5 0h1m7 0h1m2 0h1m1 0h1m3 0h1m3 0h1m18 0h2m6 0h2m4 0h1m3 0h1m3 0h1m6 0h1m1 0h1m3 0h2m3 0h1m5 0h1m1 0h2m1 0h1m1 0h1m3 0h1m2 0h1m1 0h2m2 0h1m1 0h2M115 763.5h1m11 0h1m16 0h1m2 0h2m8 0h1m1 0h1m1 0h1m1 0h2m2 0h1m2 0h1m1 0h1m1 0h4m1 0h1m3 0h1m3 0h1m1 0h2m5 0h1m3 0h1m1 0h2m4 0h2m1 0h1m1 0h5m4 0h1m1 0h1m1 0h1m1 0h1m5 0h1m1 0h1m1 0h2m1 0h2m2 0h1M122 764.5h1m4 0h1m6 0h1m1 0h2m1 0h1m5 0h1m1 0h1m4 0h1m3 0h2m19 0h3m3 0h1m3 0h3m1 0h1m2 0h2m3 0h1m2 0h2m3 0h2m8 0h2m3 0h3m1 0h2m2 0h1m3 0h1m4 0h1m2 0h1M112 765.5h1m2 0h1m2 0h1m2 0h1m2 0h2m1 0h1m2 0h2m8 0h1m8 0h1m12 0h1m5 0h2m2 0h1m3 0h1m2 0h1m2 0h1m3 0h2m1 0h1m1 0h1m1 0h1m6 0h2m2 0h1m2 0h2m1 0h1m3 0h1m3 0h1m3 0h3m2 0h1m1 0h2M110 766.5h1m5 0h1m15 0h2m1 0h1m4 0h1m1 0h1m1 0h1m3 0h1m4 0h1m1 0h1m5 0h1m1 0h1m1 0h1m6 0h2m3 0h1m1 0h1m2 0h1m6 0h1m5 0h1m4 0h4m1 0h2m4 0h1m1 0h1m1 0h1m3 0h3m1 0h1m5 0h1m1 0h2m3 0h1M110 767.5h1m27 0h1m7 0h1m1 0h1m7 0h1m1 0h3m4 0h1m9 0h6m1 0h1m4 0h1m1 0h2m9 0h3m1 0h3m4 0h3m1 0h1m1 0h4m2 0h1m1 0h1m4 0h1m4 0h1m3 0h1m5 0h1M110 768.5h2m21 0h1m5 0h1m5 0h1m2 0h1m1 0h2m1 0h1m5 0h2m1 0h1m1 0h1m9 0h1m5 0h1m8 0h2m1 0h1m3 0h1m1 0h6m1 0h1m1 0h3m1 0h1m1 0h2m1 0h1m2 0h1m1 0h3m7 0h1m8 0h1M110 769.5h1m1 0h3m13 0h1m7 0h2m5 0h2m7 0h3m1 0h1m4 0h1m2 0h1m2 0h1m1 0h1m5 0h1m7 0h2m5 0h1m3 0h1m5 0h1m1 0h1m3 0h1m4 0h2m1 0h1m5 0h3m6 0h2m1 0h1m5 0h1m3 0h1M110 770.5h2m18 0h1m4 0h1m2 0h1m5 0h2m8 0h1m1 0h1m11 0h2m14 0h2m2 0h2m2 0h1m1 0h1m4 0h6m1 0h1m1 0h3m1 0h2m2 0h1m1 0h1m1 0h3m4 0h2m1 0h1m6 0h1M110 771.5h1m3 0h1m4 0h1m3 0h1m18 0h1m1 0h1m5 0h1m4 0h1m1 0h1m5 0h1m3 0h1m3 0h1m6 0h1m1 0h1m1 0h4m1 0h1m4 0h1m1 0h2m3 0h1m1 0h2m1 0h1m2 0h4m2 0h2m2 0h1m2 0h1m3 0h1m4 0h3m9 0h1M111 772.5h1m18 0h1m7 0h1m4 0h1m1 0h1m7 0h1m2 0h1m4 0h2m1 0h1m4 0h2m2 0h1m8 0h1m1 0h2m2 0h2m2 0h1m9 0h1m8 0h4m1 0h3m4 0h2m1 0h1m20 0h1M122 773.5h1m1 0h1m1 0h1m3 0h1m2 0h1m10 0h1m6 0h1m8 0h1m6 0h2m3 0h2m2 0h2m1 0h1m7 0h2m4 0h2m5 0h1m1 0h1m2 0h1m2 0h1m2 0h1m3 0h2m3 0h2m3 0h3m11 0h1m3 0h1m1 0h1M118 774.5h1m6 0h1m1 0h1m1 0h1m4 0h1m12 0h1m7 0h3m4 0h1m1 0h2m1 0h2m1 0h1m1 0h1m1 0h1m2 0h3m4 0h1m10 0h1m2 0h3m3 0h3m2 0h1m4 0h1m3 0h2m1 0h2m1 0h1m4 0h1M123 775.5h1m1 0h1m9 0h1m2 0h1m1 0h1m3 0h2m2 0h1m1 0h1m18 0h2m3 0h2m1 0h1m3 0h1m2 0h1m3 0h1m5 0h4m2 0h2m1 0h5m3 0h2m1 0h1m1 0h2m5 0h3m4 0h1m3 0h1m8 0h1M110 776.5h1m15 0h1m2 0h1m8 0h1m5 0h1m1 0h2m17 0h2m1 0h1m5 0h2m1 0h2m2 0h1m3 0h1m3 0h1m1 0h2m2 0h1m1 0h3m4 0h3m3 0h1m9 0h1m2 0h1m2 0h1m4 0h1m1 0h2m6 0h1M124 777.5h1m1 0h1m23 0h1m2 0h1m6 0h1m6 0h1m2 0h1m1 0h1m2 0h1m2 0h1m1 0h3m1 0h1m2 0h3m1 0h1m1 0h1m2 0h3m1 0h4m2 0h2m1 0h1m1 0h1m2 0h3m3 0h1m2 0h2m2 0h3m2 0h3m1 0h2M110 778.5h1m18 0h1m11 0h1m3 0h1m1 0h2m10 0h1m4 0h2m11 0h3m2 0h2m1 0h2m4 0h2m3 0h2m1 0h6m1 0h2m2 0h3m3 0h1m1 0h3m1 0h1m2 0h1m2 0h1m2 0h3m1 0h3m3 0h1m1 0h1M114 779.5h1m15 0h1m5 0h2m1 0h1m2 0h2m2 0h1m3 0h1m4 0h2m3 0h1m2 0h1m1 0h3m1 0h1m4 0h1m2 0h1m5 0h1m1 0h1m1 0h2m2 0h1m1 0h1m1 0h1m1 0h1m1 0h2m2 0h1m2 0h6m1 0h4m1 0h3m2 0h1m10 0h1m2 0h1m2 0h1M132 780.5h1m6 0h1m1 0h1m14 0h2m1 0h1m2 0h2m4 0h1m5 0h1m2 0h1m1 0h1m5 0h2m1 0h2m1 0h1m1 0h1m1 0h2m1 0h3m1 0h4m3 0h3m1 0h2m4 0h1m1 0h1m1 0h2m3 0h1m4 0h2M112 781.5h1m15 0h1m30 0h1m1 0h1m8 0h2m1 0h1m1 0h2m1 0h1m1 0h1m1 0h1m3 0h2m1 0h3m1 0h1m1 0h1m1 0h2m2 0h1m2 0h2m1 0h5m2 0h1m4 0h3m1 0h2m1 0h3m2 0h1m3 0h1M110 782.5h1m4 0h1m14 0h1m5 0h1m1 0h1m2 0h1m13 0h1m7 0h5m1 0h2m2 0h3m5 0h2m2 0h1m1 0h2m2 0h6m1 0h2m2 0h2m1 0h2m2 0h2m5 0h1m1 0h3m9 0h3m1 0h3m2 0h1M125 783.5h1m12 0h1m1 0h1m1 0h1m2 0h1m2 0h2m1 0h2m3 0h2m2 0h1m2 0h1m4 0h1m1 0h4m1 0h8m2 0h1m5 0h3m3 0h1m3 0h1m2 0h3m1 0h1m1 0h2m1 0h2m1 0h1m1 0h1m3 0h1m2 0h3m3 0h2m6 0h2m4 0h1M110 784.5h1m14 0h1m1 0h1m16 0h1m3 0h2m2 0h1m6 0h1m2 0h3m3 0h1m1 0h2m5 0h1m1 0h4m1 0h2m1 0h1m1 0h2m2 0h1m2 0h1m1 0h4m1 0h1m3 0h1m2 0h3m3 0h1m1 0h4m6 0h1m4 0h1m2 0h1m1 0h2m1 0h2M134 785.5h1m5 0h2m12 0h1m3 0h1m1 0h1m4 0h2m6 0h1m2 0h1m1 0h2m1 0h1m1 0h2m2 0h1m2 0h8m2 0h1m1 0h2m4 0h4m1 0h1m1 0h1m2 0h1m4 0h2m4 0h1m1 0h2m2 0h1m1 0h1m1 0h1M137 786.5h1m3 0h1m3 0h1m2 0h3m6 0h1m1 0h4m5 0h2m1 0h1m4 0h1m2 0h2m1 0h1m1 0h2m1 0h3m1 0h3m2 0h4m1 0h1m1 0h2m1 0h1m1 0h2m1 0h5m2 0h1m1 0h5m1 0h1m1 0h2m3 0h1m8 0h1M124 787.5h1m2 0h1m8 0h1m3 0h1m1 0h1m3 0h1m2 0h1m4 0h1m2 0h1m3 0h1m1 0h1m1 0h6m2 0h1m1 0h1m1 0h3m2 0h1m1 0h1m2 0h3m3 0h3m1 0h2m1 0h1m1 0h2m1 0h4m1 0h3m2 0h1m3 0h1m1 0h3m3 0h2m5 0h1M138 788.5h1m6 0h1m4 0h1m1 0h1m4 0h2m7 0h1m1 0h3m1 0h1m1 0h2m1 0h1m1 0h2m1 0h2m3 0h1m2 0h2m3 0h5m1 0h1m1 0h4m2 0h1m2 0h1m1 0h1m1 0h4m1 0h2m1 0h1m2 0h4m1 0h4m7 0h2M136 789.5h1m2 0h2m1 0h1m1 0h1m6 0h4m4 0h7m1 0h2m2 0h2m1 0h4m1 0h1m1 0h2m2 0h1m1 0h4m4 0h1m1 0h3m1 0h3m4 0h2m1 0h2m1 0h1m2 0h2m2 0h3m1 0h1m4 0h1m2 0h1m1 0h2m2 0h1M113 790.5h1m20 0h1m4 0h1m3 0h1m2 0h1m1 0h2m1 0h1m1 0h3m7 0h1m1 0h4m2 0h2m1 0h2m3 0h1m1 0h6m1 0h1m1 0h3m1 0h1m1 0h2m1 0h1m1 0h4m6 0h3m1 0h1m2 0h1m1 0h1m2 0h1m1 0h2m1 0h2m2 0h1m1 0h1m1 0h3m1 0h1M114 791.5h1m25 0h1m3 0h1m1 0h1m9 0h1m1 0h1m1 0h2m2 0h1m6 0h1m1 0h6m3 0h1m1 0h3m2 0h1m1 0h7m1 0h2m3 0h3m1 0h1m3 0h1m1 0h2m1 0h5m1 0h1m6 0h2m1 0h3m1 0h1m8 0h1M131 792.5h1m7 0h1m2 0h1m11 0h1m5 0h7m3 0h1m1 0h2m1 0h8m1 0h1m1 0h3m3 0h1m1 0h6m2 0h4m1 0h1m1 0h1m1 0h1m3 0h1m1 0h3m5 0h3m2 0h1m1 0h2m2 0h1m1 0h1M110 793.5h1m17 0h1m13 0h1m6 0h2m2 0h2m3 0h2m2 0h3m1 0h3m1 0h1m1 0h2m2 0h4m1 0h1m2 0h1m1 0h2m1 0h1m1 0h3m2 0h4m1 0h2m1 0h1m3 0h2m1 0h5m1 0h2m2 0h2m1 0h4m1 0h3m2 0h3m1 0h2M117 794.5h1m26 0h1m6 0h1m1 0h1m1 0h1m2 0h1m1 0h3m6 0h1m2 0h6m2 0h2m1 0h3m1 0h5m1 0h1m1 0h1m2 0h2m1 0h2m2 0h1m1 0h1m7 0h5m2 0h3m1 0h4m2 0h2m2 0h1m1 0h1M129 795.5h1m1 0h5m2 0h1m1 0h1m1 0h3m6 0h1m3 0h3m1 0h8m3 0h1m2 0h1m1 0h1m2 0h9m1 0h3m1 0h9m3 0h1m1 0h4m1 0h1m1 0h2m1 0h2m3 0h1m1 0h3m1 0h1m2 0h5m3 0h1m2 0h1M115 796.5h1m14 0h1m4 0h1m5 0h3m1 0h3m1 0h2m1 0h4m1 0h1m1 0h2m4 0h1m2 0h2m1 0h2m3 0h4m1 0h3m1 0h3m1 0h1m1 0h4m1 0h5m1 0h1m1 0h1m1 0h2m1 0h2m4 0h2m3 0h8m1 0h1m1 0h1m2 0h2m2 0h2m2 0h1M118 797.5h1m12 0h1m4 0h2m1 0h1m2 0h2m2 0h1m1 0h1m1 0h10m1 0h3m2 0h4m1 0h8m3 0h3m1 0h3m2 0h8m1 0h6m1 0h2m1 0h2m2 0h7m1 0h2m1 0h2m1 0h2m1 0h3m2 0h3m1 0h1M116 798.5h1m5 0h1m4 0h1m9 0h1m3 0h3m7 0h1m2 0h1m2 0h1m4 0h1m1 0h3m1 0h20m3 0h2m1 0h2m3 0h2m1 0h1m1 0h1m1 0h2m1 0h1m1 0h1m2 0h1m1 0h2m2 0h1m1 0h3m2 0h7m3 0h1m5 0h1M120 799.5h1m6 0h1m14 0h1m2 0h3m1 0h1m1 0h1m1 0h1m1 0h2m1 0h3m1 0h2m3 0h2m2 0h2m1 0h11m1 0h1m2 0h9m1 0h2m2 0h1m1 0h1m1 0h2m4 0h6m2 0h1m3 0h1m3 0h1m1 0h3m2 0h1m3 0h1M111 800.5h1m23 0h3m1 0h1m2 0h1m2 0h2m1 0h1m2 0h1m1 0h4m1 0h1m1 0h7m1 0h1m1 0h1m1 0h1m1 0h2m2 0h5m1 0h1m1 0h7m1 0h1m1 0h5m1 0h3m1 0h1m2 0h5m1 0h2m1 0h1m1 0h1m5 0h2m1 0h2m1 0h1m1 0h1m1 0h1m1 0h1m2 0h1M126 801.5h1m1 0h1m5 0h1m1 0h1m7 0h3m2 0h1m1 0h3m2 0h2m1 0h1m1 0h5m1 0h1m3 0h9m1 0h3m1 0h5m1 0h4m1 0h3m2 0h1m1 0h3m1 0h1m2 0h1m1 0h3m2 0h2m2 0h2m2 0h2m3 0h1m1 0h1m5 0h2M131 802.5h1m5 0h1m8 0h1m4 0h1m3 0h6m1 0h1m1 0h1m1 0h2m1 0h7m2 0h8m1 0h6m1 0h4m1 0h1m1 0h11m2 0h1m1 0h1m2 0h4m1 0h3m3 0h3m2 0h1m3 0h1m3 0h1M115 803.5h1m8 0h1m3 0h1m2 0h1m2 0h1m3 0h1m2 0h1m1 0h1m1 0h1m2 0h1m2 0h1m1 0h1m4 0h3m1 0h12m1 0h15m1 0h2m1 0h6m1 0h1m1 0h6m1 0h2m2 0h1m5 0h3m1 0h1m1 0h1m1 0h3m1 0h4m3 0h1M121 804.5h1m6 0h1m9 0h7m1 0h2m1 0h4m3 0h2m1 0h1m4 0h2m1 0h6m2 0h7m1 0h4m1 0h4m1 0h5m1 0h3m2 0h5m3 0h5m2 0h3m1 0h1m1 0h1m1 0h3m1 0h1m1 0h5m3 0h1M130 805.5h1m1 0h1m1 0h1m3 0h1m3 0h2m2 0h2m1 0h1m1 0h3m1 0h4m1 0h6m2 0h3m1 0h12m1 0h1m1 0h5m1 0h1m1 0h4m2 0h7m2 0h2m1 0h1m3 0h4m4 0h2m2 0h1m2 0h1m5 0h3M110 806.5h1m11 0h1m6 0h1m1 0h2m1 0h3m4 0h1m1 0h1m4 0h3m1 0h3m1 0h5m1 0h1m1 0h16m1 0h1m1 0h9m1 0h7m1 0h4m1 0h2m1 0h1m3 0h1m1 0h1m1 0h1m1 0h1m2 0h1m2 0h5m2 0h1m2 0h1m1 0h1M126 807.5h1m4 0h1m1 0h4m2 0h2m1 0h1m1 0h2m2 0h4m1 0h4m1 0h2m1 0h7m1 0h7m1 0h4m1 0h1m1 0h6m1 0h2m1 0h3m1 0h3m1 0h1m2 0h3m2 0h3m1 0h3m1 0h1m3 0h3m1 0h3m1 0h1m1 0h3m1 0h2m2 0h1M118 808.5h1m8 0h1m3 0h4m2 0h3m2 0h2m3 0h1m2 0h5m1 0h13m1 0h1m1 0h1m1 0h1m1 0h16m2 0h3m1 0h1m1 0h3m1 0h1m2 0h1m1 0h3m1 0h3m1 0h3m1 0h1m1 0h5m2 0h1m1 0h4m1 0h2m1 0h1m2 0h1M122 809.5h1m4 0h1m5 0h2m2 0h1m1 0h1m1 0h2m1 0h1m2 0h2m2 0h5m2 0h1m1 0h1m3 0h2m1 0h3m1 0h8m2 0h1m2 0h8m2 0h1m1 0h8m1 0h8m1 0h2m1 0h1m1 0h3m2 0h1m1 0h4m2 0h1m1 0h1m1 0h1M110 810.5h1m15 0h1m5 0h1m1 0h1m2 0h1m2 0h8m1 0h1m1 0h2m1 0h4m1 0h4m1 0h2m1 0h14m1 0h1m1 0h13m1 0h1m1 0h7m2 0h1m3 0h2m3 0h4m1 0h1m1 0h8m4 0h2M110 811.5h1m16 0h2m1 0h1m3 0h1m1 0h2m1 0h4m1 0h3m1 0h1m1 0h8m1 0h28m1 0h3m1 0h10m1 0h5m1 0h1m3 0h1m3 0h11m2 0h2m1 0h8M110 812.5h1m5 0h1m2 0h2m2 0h3m3 0h1m4 0h2m2 0h3m1 0h2m1 0h1m1 0h3m2 0h1m1 0h5m1 0h4m1 0h10m1 0h5m1 0h9m1 0h6m3 0h5m1 0h2m1 0h1m1 0h4m2 0h3m3 0h9m2 0h2m1 0h2M121 813.5h1m2 0h1m1 0h1m2 0h1m1 0h5m1 0h7m1 0h7m1 0h4m1 0h2m1 0h15m1 0h2m1 0h1m1 0h6m1 0h3m1 0h1m1 0h1m1 0h1m2 0h1m2 0h1m1 0h2m1 0h1m1 0h1m2 0h3m1 0h2m1 0h3m1 0h2m2 0h1m1 0h1m4 0h2m1 0h1M122 814.5h1m4 0h1m3 0h1m1 0h4m1 0h1m1 0h3m1 0h16m1 0h11m1 0h5m1 0h16m1 0h2m1 0h5m2 0h1m1 0h2m1 0h1m1 0h1m1 0h1m2 0h1m2 0h5m1 0h6m1 0h1m1 0h2M115 815.5h1m2 0h1m1 0h1m6 0h1m1 0h1m1 0h2m1 0h1m2 0h5m1 0h37m1 0h2m1 0h8m2 0h4m2 0h3m3 0h1m1 0h1m1 0h2m5 0h1m4 0h2m1 0h1m1 0h4m1 0h3m1 0h1m1 0h1M119 816.5h1m7 0h2m1 0h12m1 0h31m2 0h13m1 0h9m1 0h1m2 0h1m2 0h1m1 0h2m2 0h3m1 0h2m1 0h3m1 0h2m1 0h1m2 0h1m1 0h4m2 0h4m4 0h1M114 817.5h2m2 0h1m2 0h1m4 0h1m1 0h1m2 0h1m3 0h1m1 0h20m1 0h3m1 0h11m1 0h22m2 0h2m1 0h3m2 0h3m1 0h3m1 0h3m6 0h5m1 0h1m1 0h5m1 0h2m2 0h2M110 818.5h2m4 0h2m4 0h6m1 0h4m1 0h2m1 0h2m1 0h22m1 0h40m2 0h1m3 0h2m1 0h1m1 0h2m1 0h1m3 0h1m1 0h3m3 0h2m2 0h3m2 0h2m3 0h1M110 819.5h2m3 0h1m3 0h3m1 0h1m1 0h6m1 0h8m2 0h42m1 0h14m1 0h5m2 0h2m4 0h2m1 0h1m1 0h3m1 0h1m1 0h1m3 0h3m1 0h6m1 0h1M110 820.5h1m3 0h1m2 0h1m2 0h1m1 0h3m2 0h31m2 0h25m1 0h5m1 0h5m1 0h1m1 0h1m2 0h1m1 0h2m1 0h6m1 0h2m2 0h3m2 0h5m2 0h3m1 0h1m1 0h1M110 821.5h2m2 0h1m3 0h1m2 0h2m1 0h1m2 0h1m1 0h53m1 0h7m1 0h1m1 0h2m1 0h3m1 0h2m1 0h1m3 0h2m2 0h4m2 0h2m1 0h2m1 0h2m1 0h1m1 0h1m1 0h2m2 0h3m3 0h3M110 822.5h1m1 0h2m2 0h1m1 0h2m1 0h1m1 0h2m1 0h8m1 0h1m1 0h55m1 0h8m1 0h2m2 0h1m2 0h1m2 0h3m2 0h1m1 0h1m1 0h1m2 0h13m1 0h1M110 823.5h2m1 0h1m2 0h3m2 0h2m1 0h2m1 0h5m1 0h30m1 0h24m1 0h6m1 0h3m2 0h5m3 0h4m1 0h1m1 0h4m1 0h10m1 0h4m1 0h1m1 0h1M110 824.5h1m5 0h4m1 0h1m1 0h5m1 0h4m1 0h55m1 0h5m1 0h6m2 0h2m3 0h1m2 0h1m1 0h1m2 0h1m1 0h2m2 0h1m4 0h3m1 0h4m2 0h1m2 0h2M110 825.5h2m2 0h5m2 0h1m2 0h3m1 0h4m1 0h69m2 0h1m1 0h2m2 0h2m3 0h4m4 0h2m4 0h2m2 0h5m1 0h1m4 0h1M110 826.5h2m5 0h4m2 0h1m1 0h4m1 0h56m1 0h9m1 0h7m2 0h6m3 0h2m2 0h1m1 0h7m1 0h2m1 0h4m2 0h1m1 0h1M110 827.5h2m3 0h1m1 0h2m1 0h13m1 0h1m1 0h1m1 0h41m1 0h8m1 0h10m1 0h8m5 0h1m1 0h2m1 0h1m1 0h1m1 0h1m1 0h4m1 0h1m1 0h6m2 0h1M110 828.5h4m2 0h2m1 0h3m1 0h67m1 0h3m1 0h5m1 0h6m1 0h3m1 0h1m2 0h5m1 0h19M110 829.5h1m2 0h1m2 0h3m1 0h69m1 0h9m2 0h1m1 0h1m1 0h2m3 0h2m1 0h3m3 0h2m1 0h1m1 0h8m1 0h4m2 0h1m1 0h1m1 0h2M110 830.5h1m2 0h1m1 0h1m1 0h7m2 0h66m3 0h3m1 0h1m1 0h1m1 0h1m2 0h1m1 0h1m1 0h8m1 0h6m3 0h1m1 0h8m2 0h1M110 831.5h3m1 0h1m1 0h1m1 0h79m2 0h3m1 0h9m3 0h1m1 0h3m1 0h4m1 0h8m1 0h2m1 0h3M110 832.5h1m1 0h1m2 0h1m2 0h85m1 0h3m1 0h1m1 0h1m1 0h5m1 0h2m1 0h1m1 0h1m1 0h7m1 0h5m1 0h2M110 833.5h1m1 0h4m1 0h71m1 0h9m1 0h7m1 0h2m1 0h1m2 0h3m1 0h1m2 0h4m2 0h2m1 0h11m1 0h2M110 834.5h2m1 0h67m1 0h6m1 0h11m1 0h3m1 0h2m2 0h3m6 0h1m3 0h2m1 0h1m1 0h2m1 0h10m3 0h1M110 835.5h1m2 0h76m1 0h5m1 0h1m1 0h1m2 0h4m1 0h2m1 0h3m1 0h1m1 0h2m1 0h2m2 0h3m1 0h1m1 0h12m2 0h1m1 0h2M110 836.5h11m1 0h74m1 0h10m1 0h1m1 0h1m1 0h1m1 0h4m2 0h1m1 0h17m2 0h1m3 0h1M110 837.5h3m1 0h1m1 0h4m1 0h58m1 0h1m1 0h7m1 0h9m1 0h8m4 0h2m3 0h2m2 0h1m1 0h13m1 0h6M110 838.5h2m1 0h5m1 0h72m1 0h2m1 0h3m1 0h10m1 0h2m1 0h7m1 0h17m1 0h3M110 839.5h3m1 0h2m1 0h74m1 0h7m1 0h5m2 0h1m4 0h1m1 0h3m2 0h1m1 0h1m1 0h7m1 0h8m2 0h1m3 0h1M110 840.5h5m1 0h76m1 0h12m1 0h4m1 0h2m1 0h5m2 0h2m1 0h14m1 0h2m1 0h1M110 841.5h1m2 0h9m1 0h51m1 0h14m1 0h8m1 0h3m1 0h2m2 0h1m1 0h1m2 0h4m1 0h23m2 0h1M110 842.5h7m1 0h6m1 0h74m1 0h4m1 0h1m3 0h1m1 0h5m1 0h6m1 0h14m4 0h1M110 843.5h1m1 0h71m1 0h9m1 0h24m1 0h1m1 0h3m1 0h3m1 0h8m1 0h2m5 0h2M110 844.5h1m1 0h77m1 0h2m1 0h2m1 0h8m2 0h3m1 0h4m1 0h3m1 0h3m2 0h14m1 0h3m4 0h1M110 845.5h6m1 0h84m3 0h1m1 0h3m1 0h5m1 0h4m3 0h1m2 0h16M110 846.5h2m1 0h1m1 0h64m1 0h10m1 0h3m1 0h12m1 0h4m1 0h1m1 0h7m1 0h3m1 0h14m1 0h3M110 847.5h72m1 0h9m1 0h9m1 0h9m1 0h5m1 0h19m2 0h2m1 0h1m1 0h1M110 848.5h5m1 0h75m1 0h2m1 0h1m1 0h3m1 0h1m1 0h10m1 0h4m2 0h18m1 0h1m2 0h3M110 849.5h2m1 0h1m1 0h1m1 0h75m2 0h3m1 0h1m1 0h6m1 0h3m1 0h1m1 0h5m1 0h12m1 0h7m1 0h2m2 0h1M110 850.5h8m1 0h61m1 0h2m1 0h6m1 0h1m1 0h6m1 0h16m2 0h2m2 0h19m1 0h1m2 0h1M110 851.5h73m1 0h1m1 0h1m1 0h5m2 0h2m2 0h1m1 0h3m1 0h1m1 0h3m1 0h2m2 0h1m1 0h2m2 0h2m1 0h5m1 0h7m2 0h4m1 0h1m2 0h1M110 852.5h72m2 0h13m1 0h1m1 0h7m1 0h4m1 0h2m1 0h6m2 0h17m6 0h1M110 853.5h68m1 0h2m1 0h10m1 0h9m1 0h2m1 0h1m1 0h1m1 0h2m1 0h5m1 0h2m2 0h14m1 0h1m1 0h1m2 0h2m1 0h1M110 854.5h68m1 0h21m1 0h2m1 0h16m1 0h8m1 0h13m1 0h1M110 855.5h4m1 0h66m1 0h9m1 0h8m1 0h5m1 0h3m1 0h1m2 0h3m2 0h2m1 0h1m1 0h2m1 0h1m1 0h10m1 0h1m3 0h1M110 856.5h4m1 0h5m1 0h58m1 0h2m1 0h2m1 0h1m1 0h13m1 0h1m2 0h8m1 0h1m3 0h5m1 0h16m5 0h2m1 0h1M110 857.5h137" stroke="#0a0a0a" stroke-width="1" fill="none" filter="url(#soft)"/>
<g shape-rendering="crispEdges" fill="none" stroke="#1a1a1a" stroke-width="1">
<rect x="110.5" y="688.5" width="170" height="170"/>
<path d="M195.5 688V858 M110 773.5H280"/>
</g>
<path d="M110.5 858h-3M110 858.5v2.2M110.5 845.2h-2M122.8 858.5v1.2M110.5 837.7h-2M130.3 858.5v1.2M110.5 832.4h-2M135.6 858.5v1.2M110.5 828.3h-2M139.7 858.5v1.2M110.5 824.9h-2M143.1 858.5v1.2M110.5 822.1h-2M145.9 858.5v1.2M110.5 819.6h-2M148.4 858.5v1.2M110.5 817.4h-2M150.6 858.5v1.2M110.5 815.5h-3M152.5 858.5v2.2M110.5 802.7h-2M165.3 858.5v1.2M110.5 795.2h-2M172.8 858.5v1.2M110.5 789.9h-2M178.1 858.5v1.2M110.5 785.8h-2M182.2 858.5v1.2M110.5 782.4h-2M185.6 858.5v1.2M110.5 779.6h-2M188.4 858.5v1.2M110.5 777.1h-2M190.9 858.5v1.2M110.5 774.9h-2M193.1 858.5v1.2M110.5 773h-3M195 858.5v2.2M110.5 760.2h-2M207.8 858.5v1.2M110.5 752.7h-2M215.3 858.5v1.2M110.5 747.4h-2M220.6 858.5v1.2M110.5 743.3h-2M224.7 858.5v1.2M110.5 739.9h-2M228.1 858.5v1.2M110.5 737.1h-2M230.9 858.5v1.2M110.5 734.6h-2M233.4 858.5v1.2M110.5 732.4h-2M235.6 858.5v1.2M110.5 730.5h-3M237.5 858.5v2.2M110.5 717.7h-2M250.3 858.5v1.2M110.5 710.2h-2M257.8 858.5v1.2M110.5 704.9h-2M263.1 858.5v1.2M110.5 700.8h-2M267.2 858.5v1.2M110.5 697.4h-2M270.6 858.5v1.2M110.5 694.6h-2M273.4 858.5v1.2M110.5 692.1h-2M275.9 858.5v1.2M110.5 689.9h-2M278.1 858.5v1.2" stroke="#111" stroke-width="1" fill="none"/>
<rect x="111" y="689" width="60" height="46" fill="#fff"/>
<path d="M142.5 688V735 M110 712.5H171" stroke="#1a1a1a" stroke-width="1" fill="none" shape-rendering="crispEdges"/>
<text x="120.55" y="707.7" font-size="20.3" textLength="11.12" lengthAdjust="spacingAndGlyphs">3</text>
<text x="150.21" y="707.7" font-size="20.3" textLength="12.55" lengthAdjust="spacingAndGlyphs">6</text>
<text x="114.14" y="731" font-size="20.3" textLength="22.62" lengthAdjust="spacingAndGlyphs">79</text>
<text x="144.70" y="731" font-size="20.3" textLength="23.13" lengthAdjust="spacingAndGlyphs">12</text>
<path d="M454 698.5h1M455 699.5h1M458 701.5h1M448 702.5h2M450 703.5h1M454 704.5h1M447 706.5h1m1 0h1m5 0h1M443 707.5h1m6 0h1m2 0h1M442 708.5h1m13 0h1M442 709.5h1m3 0h1m1 0h1M441 710.5h1m2 0h1m3 0h1m1 0h1m1 0h1m3 0h1M444 711.5h1m2 0h1m2 0h2m3 0h1m1 0h2M435 712.5h1m5 0h1m2 0h2m1 0h1m3 0h1m6 0h1M438 713.5h2m2 0h1m1 0h1m1 0h2m2 0h1m3 0h1M412 714.5h1m22 0h1m1 0h1m2 0h1m2 0h2m4 0h2m3 0h1M400 715.5h1m36 0h1m5 0h1m2 0h1m1 0h1m1 0h2m1 0h4M406 716.5h1m32 0h1m1 0h1m2 0h7m1 0h2m3 0h1M370 717.5h1m13 0h1m53 0h1m1 0h1m1 0h1m2 0h6m1 0h2M333 718.5h1m106 0h1m1 0h2m1 0h1m1 0h1m1 0h3m1 0h1M352 719.5h1m26 0h1m31 0h1m30 0h2m2 0h7m1 0h1M435 720.5h1m5 0h1m2 0h4m1 0h1m2 0h2m2 0h2M374 721.5h1m8 0h1m46 0h1m2 0h1m3 0h2m1 0h2m1 0h1m1 0h1m1 0h3m1 0h3M434 722.5h1m1 0h1m1 0h3m1 0h2m1 0h8m2 0h1M406 723.5h2m8 0h1m18 0h1m1 0h1m1 0h12m1 0h1m1 0h2m1 0h1m1 0h1M352 724.5h2m16 0h1m34 0h1m11 0h1m4 0h1m12 0h1m2 0h2m2 0h11m2 0h2M324 725.5h1m64 0h1m21 0h1m10 0h1m10 0h1m3 0h3m2 0h12m2 0h1M358 726.5h1m28 0h1m41 0h1m3 0h1m2 0h1m3 0h17m2 0h1M343 727.5h1m10 0h1m9 0h1m69 0h1m1 0h6m1 0h7m1 0h2m1 0h1M349 728.5h1m21 0h1m53 0h1m7 0h2m1 0h15m1 0h2m2 0h4M346 729.5h1m1 0h1m26 0h1m50 0h1m3 0h2m4 0h2m1 0h9m1 0h7M348 730.5h1m51 0h1m14 0h1m6 0h1m7 0h1m1 0h1m2 0h12m2 0h7m2 0h1M356 731.5h1m20 0h1m5 0h1m6 0h1m12 0h1m11 0h1m2 0h1m4 0h1m1 0h1m5 0h1m5 0h14m1 0h3m1 0h1M353 732.5h1m9 0h1m7 0h1m20 0h1m10 0h1m8 0h1m19 0h3m3 0h18M343 733.5h1m29 0h1m7 0h1m13 0h1m9 0h1m9 0h1m5 0h1m1 0h1m2 0h1m2 0h2m3 0h1m1 0h18m1 0h1M343 734.5h1m19 0h1m5 0h1m5 0h1m2 0h1m1 0h1m8 0h1m9 0h1m14 0h2m8 0h1m1 0h3m3 0h18m1 0h4m1 0h1M329 735.5h1m1 0h1m8 0h1m5 0h1m1 0h1m6 0h1m3 0h1m1 0h1m29 0h1m19 0h1m5 0h1m9 0h1m5 0h1m1 0h3m1 0h15m1 0h1m1 0h1M324 736.5h1m21 0h1m4 0h3m3 0h1m1 0h1m4 0h1m3 0h1m6 0h2m13 0h1m1 0h1m4 0h1m2 0h1m23 0h1m4 0h1m3 0h23m1 0h1M328 737.5h2m11 0h1m3 0h1m7 0h1m2 0h3m2 0h1m1 0h1m2 0h1m9 0h1m13 0h1m2 0h1m25 0h1m3 0h1m2 0h1m1 0h1m2 0h1m2 0h2m1 0h14m1 0h3m1 0h1m3 0h1M337 738.5h1m8 0h1m3 0h1m3 0h1m11 0h1m4 0h1m8 0h2m3 0h1m3 0h1m2 0h1m4 0h3m2 0h1m12 0h1m1 0h1m5 0h2m5 0h1m1 0h22M328 739.5h1m22 0h1m6 0h1m1 0h1m2 0h1m2 0h2m4 0h2m6 0h1m13 0h1m21 0h1m10 0h2m3 0h20m1 0h3m2 0h1M346 740.5h1m1 0h1m9 0h1m18 0h1m4 0h1m1 0h1m19 0h2m2 0h1m13 0h1m3 0h2m4 0h2m1 0h12m1 0h2m1 0h3m1 0h1m3 0h1M343 741.5h1m7 0h2m3 0h3m12 0h1m1 0h1m3 0h2m1 0h1m3 0h1m1 0h1m3 0h1m3 0h1m1 0h2m10 0h1m17 0h2m3 0h1m1 0h22M327 742.5h2m3 0h1m2 0h2m9 0h1m1 0h4m2 0h1m4 0h1m2 0h1m4 0h2m1 0h2m5 0h1m5 0h1m22 0h1m6 0h1m14 0h3m3 0h18m2 0h2m5 0h1M342 743.5h1m2 0h1m6 0h1m2 0h2m6 0h1m10 0h1m4 0h1m1 0h1m1 0h1m1 0h1m6 0h1m2 0h1m8 0h1m3 0h1m6 0h1m3 0h1m1 0h1m1 0h1m1 0h1m1 0h1m1 0h2m2 0h20m3 0h1M342 744.5h1m4 0h1m1 0h1m2 0h2m2 0h1m1 0h1m9 0h2m1 0h1m3 0h1m2 0h1m4 0h2m11 0h1m2 0h1m9 0h1m2 0h1m1 0h1m4 0h1m6 0h1m1 0h6m1 0h16M324 745.5h1m4 0h1m4 0h1m7 0h1m2 0h1m2 0h4m1 0h4m4 0h1m1 0h1m7 0h2m3 0h1m3 0h1m5 0h1m4 0h1m4 0h1m9 0h1m1 0h1m2 0h1m6 0h1m10 0h4m3 0h7m1 0h2m1 0h5m1 0h1M330 746.5h1m11 0h1m1 0h1m6 0h4m4 0h1m1 0h3m3 0h1m2 0h1m1 0h1m3 0h1m1 0h1m6 0h1m4 0h1m9 0h1m9 0h2m1 0h1m5 0h2m3 0h1m3 0h1m3 0h3m1 0h12m1 0h3m2 0h2m2 0h1M339 747.5h2m1 0h3m7 0h5m4 0h1m1 0h2m2 0h1m25 0h1m10 0h2m4 0h1m1 0h1m1 0h1m5 0h1m3 0h1m3 0h1m4 0h21m1 0h1M335 748.5h1m10 0h1m1 0h1m15 0h2m5 0h1m1 0h1m3 0h1m9 0h3m1 0h1m3 0h1m12 0h1m1 0h1m4 0h2m2 0h1m2 0h1m1 0h2m1 0h1m2 0h5m1 0h18M337 749.5h1m4 0h1m5 0h1m3 0h1m1 0h1m1 0h2m15 0h1m7 0h1m1 0h1m4 0h1m1 0h1m1 0h1m7 0h1m9 0h1m3 0h1m3 0h1m8 0h1m2 0h1m1 0h16m1 0h3M337 750.5h1m6 0h2m1 0h1m6 0h1m6 0h5m3 0h1m1 0h1m2 0h1m8 0h1m1 0h1m9 0h1m1 0h2m1 0h2m3 0h2m8 0h3m5 0h1m1 0h1m1 0h1m2 0h4m1 0h17m1 0h2m1 0h2M324 751.5h1m14 0h1m1 0h1m6 0h1m2 0h1m10 0h1m1 0h2m3 0h1m3 0h2m17 0h2m1 0h2m3 0h2m7 0h1m2 0h1m3 0h1m5 0h1m4 0h4m1 0h1m1 0h2m1 0h5m1 0h8m7 0h1M336 752.5h1m1 0h2m5 0h2m6 0h1m3 0h1m4 0h4m1 0h1m10 0h1m3 0h1m1 0h2m8 0h2m5 0h1m2 0h3m1 0h1m9 0h1m1 0h1m4 0h1m1 0h2m1 0h3m2 0h7m1 0h3m1 0h3m3 0h1m2 0h1M335 753.5h1m1 0h1m15 0h1m6 0h3m4 0h2m5 0h3m1 0h1m7 0h1m8 0h1m8 0h2m9 0h1m3 0h1m7 0h1m1 0h1m2 0h1m1 0h5m1 0h1m1 0h10M324 754.5h1m11 0h3m4 0h1m4 0h2m2 0h1m1 0h1m1 0h1m2 0h2m2 0h2m1 0h1m1 0h5m10 0h1m4 0h1m8 0h1m6 0h1m2 0h2m2 0h2m9 0h1m2 0h1m3 0h2m1 0h12m1 0h6m1 0h1M341 755.5h1m3 0h1m3 0h2m4 0h1m1 0h3m3 0h2m3 0h1m6 0h1m4 0h2m3 0h1m1 0h1m4 0h2m13 0h2m2 0h1m2 0h2m7 0h1m2 0h1m1 0h1m2 0h4m1 0h10m1 0h5m4 0h1M339 756.5h1m10 0h1m17 0h1m5 0h1m5 0h2m5 0h1m1 0h1m1 0h1m2 0h1m18 0h1m1 0h2m2 0h1m6 0h4m2 0h2m1 0h1m1 0h8m1 0h2m2 0h6M324 757.5h1m15 0h1m8 0h2m3 0h2m5 0h2m1 0h1m12 0h1m18 0h1m1 0h1m1 0h2m2 0h3m3 0h4m8 0h1m3 0h2m1 0h2m1 0h2m1 0h14m1 0h1m2 0h1M324 758.5h1m1 0h1m12 0h1m5 0h1m4 0h1m2 0h1m2 0h1m4 0h1m1 0h1m1 0h1m2 0h1m4 0h1m2 0h1m5 0h2m3 0h1m1 0h1m1 0h1m4 0h1m4 0h1m8 0h1m3 0h1m1 0h1m3 0h1m2 0h3m1 0h6m1 0h8m3 0h1m1 0h1m3 0h1m1 0h1M324 759.5h1m17 0h1m8 0h1m2 0h1m1 0h1m1 0h1m1 0h1m1 0h1m1 0h1m2 0h1m1 0h2m6 0h1m2 0h2m2 0h1m1 0h1m2 0h1m2 0h1m9 0h1m4 0h1m1 0h1m5 0h2m3 0h3m1 0h1m1 0h2m1 0h1m1 0h3m1 0h3m3 0h2m1 0h2m1 0h2m2 0h1m2 0h1M329 760.5h1m12 0h1m1 0h1m4 0h1m4 0h1m9 0h1m1 0h1m1 0h1m2 0h1m3 0h1m3 0h2m2 0h3m1 0h3m8 0h1m3 0h1m1 0h1m1 0h1m1 0h3m1 0h2m1 0h1m1 0h1m3 0h1m1 0h2m1 0h1m1 0h1m1 0h2m1 0h1m1 0h10m3 0h1m2 0h2m1 0h1m3 0h1M324 761.5h1m4 0h1m32 0h1m5 0h1m2 0h2m2 0h1m5 0h1m6 0h2m1 0h1m2 0h1m4 0h2m2 0h1m3 0h1m1 0h1m2 0h1m3 0h3m3 0h1m2 0h1m1 0h8m1 0h4m1 0h3m1 0h1m1 0h2m4 0h1m6 0h1M324 762.5h1m1 0h1m20 0h1m8 0h1m1 0h1m8 0h1m1 0h1m1 0h2m4 0h2m2 0h1m6 0h1m1 0h1m2 0h2m2 0h1m2 0h3m1 0h1m3 0h1m2 0h1m3 0h2m2 0h1m1 0h2m1 0h1m2 0h3m3 0h2m1 0h6m1 0h3m1 0h4m2 0h1m6 0h1M325 763.5h1m10 0h1m2 0h1m4 0h1m4 0h2m1 0h1m7 0h1m1 0h2m1 0h1m9 0h1m2 0h3m5 0h1m7 0h1m2 0h1m3 0h1m1 0h1m2 0h2m3 0h1m2 0h1m3 0h1m1 0h1m1 0h1m1 0h1m1 0h5m3 0h1m1 0h6m1 0h1m5 0h1m1 0h1M325 764.5h1m17 0h1m10 0h1m4 0h1m1 0h1m4 0h1m2 0h1m1 0h1m6 0h2m6 0h4m4 0h1m2 0h1m2 0h1m1 0h1m4 0h1m2 0h1m6 0h2m3 0h2m4 0h1m1 0h2m2 0h2m1 0h1m1 0h1m3 0h1m1 0h2m2 0h1m2 0h1m1 0h2M324 765.5h1m2 0h1m15 0h1m12 0h2m2 0h2m3 0h2m3 0h1m1 0h2m1 0h2m2 0h1m2 0h2m2 0h2m1 0h1m2 0h2m6 0h2m2 0h3m2 0h2m1 0h1m1 0h1m4 0h1m3 0h3m2 0h1m4 0h2m1 0h2m1 0h4m1 0h1m2 0h1m2 0h1M335 766.5h1m10 0h1m4 0h1m9 0h2m5 0h2m7 0h1m1 0h3m7 0h1m1 0h3m3 0h2m2 0h1m1 0h1m5 0h1m1 0h2m3 0h1m2 0h1m1 0h1m1 0h4m1 0h1m1 0h2m2 0h2m2 0h3m1 0h1m4 0h2m6 0h1M324 767.5h1m8 0h1m26 0h1m2 0h1m5 0h1m2 0h1m2 0h1m1 0h4m4 0h1m3 0h1m9 0h2m1 0h1m5 0h5m2 0h1m3 0h4m2 0h2m1 0h2m3 0h2m1 0h8m1 0h2m1 0h3m1 0h1M324 768.5h1m8 0h1m18 0h1m13 0h1m2 0h2m2 0h1m1 0h2m3 0h1m1 0h1m2 0h2m2 0h7m1 0h1m1 0h1m1 0h2m1 0h1m1 0h1m1 0h2m3 0h2m1 0h3m1 0h3m2 0h2m3 0h1m1 0h5m2 0h4m1 0h2m2 0h2m3 0h1M352 769.5h1m6 0h1m12 0h1m2 0h1m4 0h1m3 0h3m1 0h1m2 0h3m4 0h3m4 0h1m2 0h2m5 0h3m3 0h1m1 0h2m3 0h3m2 0h1m2 0h1m1 0h2m1 0h2m2 0h1m1 0h1m2 0h1M324 770.5h1m2 0h1m27 0h1m4 0h1m2 0h1m5 0h1m2 0h2m4 0h2m1 0h1m3 0h1m2 0h1m2 0h1m4 0h1m2 0h2m1 0h2m2 0h1m1 0h1m3 0h1m2 0h2m1 0h2m1 0h1m1 0h7m1 0h1m3 0h4m4 0h2m1 0h1m3 0h1M324 771.5h1m1 0h1m23 0h1m2 0h1m8 0h2m11 0h1m6 0h1m1 0h1m2 0h2m1 0h3m2 0h1m1 0h1m3 0h1m2 0h1m2 0h2m1 0h2m1 0h1m1 0h1m4 0h1m4 0h4m1 0h1m3 0h3m1 0h4m1 0h4m1 0h1m1 0h1m3 0h1M339 772.5h1m7 0h1m25 0h1m2 0h1m2 0h1m5 0h1m1 0h1m5 0h1m2 0h1m2 0h1m2 0h1m1 0h1m3 0h1m5 0h1m4 0h2m1 0h4m1 0h3m1 0h1m1 0h1m2 0h1m2 0h1m5 0h2m3 0h1m1 0h1m2 0h1M324 773.5h1m8 0h1m21 0h1m6 0h1m2 0h1m7 0h2m4 0h2m2 0h1m4 0h1m1 0h1m3 0h1m4 0h1m1 0h1m1 0h1m2 0h1m8 0h1m1 0h1m1 0h1m1 0h1m1 0h1m2 0h3m1 0h1m2 0h3m1 0h1m2 0h3m3 0h1m9 0h1M324 774.5h1m6 0h1m1 0h1m29 0h1m5 0h1m3 0h1m9 0h3m2 0h1m5 0h4m6 0h1m2 0h1m1 0h1m2 0h2m1 0h1m5 0h1m5 0h3m5 0h2m4 0h1m3 0h1m3 0h1m6 0h1M358 775.5h1m5 0h1m3 0h1m1 0h3m2 0h1m2 0h3m1 0h1m11 0h1m1 0h1m2 0h5m3 0h2m3 0h3m1 0h1m4 0h1m2 0h2m1 0h1m1 0h5m2 0h3m3 0h1m2 0h1m3 0h2M331 776.5h1m21 0h1m9 0h2m3 0h1m6 0h1m6 0h2m2 0h2m5 0h3m2 0h1m1 0h4m1 0h4m1 0h2m3 0h5m3 0h3m2 0h2m2 0h6m2 0h8m1 0h1m3 0h1m6 0h1M324 777.5h1m39 0h2m8 0h1m5 0h1m6 0h1m4 0h4m1 0h1m3 0h2m1 0h2m2 0h1m1 0h5m1 0h1m2 0h1m1 0h1m1 0h1m1 0h9m1 0h2m3 0h1m1 0h1m1 0h2m4 0h1m7 0h1M324 778.5h1m21 0h1m3 0h1m3 0h1m18 0h1m11 0h1m1 0h1m5 0h6m2 0h5m2 0h2m1 0h3m1 0h3m1 0h1m1 0h2m1 0h3m2 0h2m1 0h3m1 0h5m1 0h5m2 0h2m3 0h1m1 0h1M351 779.5h1m7 0h1m11 0h1m2 0h4m1 0h2m5 0h1m1 0h1m2 0h2m2 0h1m1 0h1m2 0h4m2 0h2m2 0h2m5 0h5m2 0h1m1 0h7m2 0h1m1 0h4m2 0h1m4 0h1m3 0h1m1 0h1m1 0h1M340 780.5h1m7 0h1m19 0h2m2 0h1m2 0h1m5 0h1m7 0h1m1 0h2m1 0h1m1 0h1m2 0h1m2 0h1m1 0h1m2 0h4m1 0h2m3 0h7m1 0h2m1 0h1m1 0h2m1 0h1m1 0h2m1 0h2m1 0h2m5 0h2m4 0h1M324 781.5h1m23 0h1m3 0h1m10 0h1m1 0h1m10 0h1m9 0h1m2 0h3m2 0h2m1 0h2m3 0h1m1 0h1m7 0h3m1 0h2m2 0h1m1 0h2m2 0h1m1 0h2m5 0h3m1 0h1m1 0h1m2 0h2m1 0h1m1 0h1m2 0h1M324 782.5h1m15 0h1m10 0h1m15 0h1m1 0h1m3 0h1m3 0h3m1 0h1m1 0h1m1 0h1m1 0h1m1 0h1m1 0h2m1 0h4m1 0h1m3 0h5m2 0h1m2 0h2m2 0h2m1 0h3m1 0h6m1 0h3m2 0h2m2 0h1m3 0h2m5 0h2m1 0h1M364 783.5h1m6 0h2m3 0h1m1 0h2m3 0h2m3 0h1m3 0h3m1 0h2m9 0h8m1 0h1m1 0h2m1 0h3m1 0h7m1 0h2m2 0h7m2 0h2m2 0h2m2 0h2M348 784.5h1m4 0h1m2 0h1m6 0h1m7 0h1m1 0h2m1 0h1m2 0h1m1 0h2m3 0h2m1 0h2m1 0h2m2 0h1m1 0h3m1 0h1m1 0h3m1 0h1m1 0h1m1 0h1m1 0h1m1 0h1m4 0h2m2 0h4m2 0h1m1 0h1m1 0h2m3 0h1m2 0h1m3 0h1m1 0h1m1 0h2M346 785.5h1m13 0h1m2 0h1m8 0h1m1 0h1m1 0h1m2 0h1m3 0h1m2 0h1m2 0h1m1 0h2m2 0h7m1 0h7m2 0h1m1 0h6m2 0h4m1 0h4m1 0h2m1 0h1m1 0h4m1 0h4m3 0h1m3 0h1m8 0h1M339 786.5h2m2 0h1m14 0h2m2 0h4m1 0h1m1 0h1m2 0h2m1 0h1m1 0h1m3 0h2m2 0h1m3 0h5m1 0h3m2 0h5m2 0h1m2 0h1m1 0h5m3 0h3m1 0h1m2 0h2m2 0h5m1 0h4m2 0h2m1 0h1m5 0h1M332 787.5h1m23 0h2m5 0h1m4 0h1m2 0h1m1 0h1m2 0h2m1 0h1m5 0h1m1 0h6m2 0h13m1 0h1m1 0h4m1 0h2m3 0h1m1 0h4m1 0h7m1 0h1m2 0h2m1 0h1m1 0h2m3 0h1M344 788.5h1m14 0h1m2 0h1m8 0h1m1 0h2m1 0h1m1 0h1m1 0h2m1 0h4m1 0h1m1 0h2m1 0h1m2 0h1m1 0h1m4 0h3m1 0h3m1 0h7m1 0h3m1 0h3m1 0h4m1 0h4m1 0h1m5 0h4m1 0h1m2 0h1M347 789.5h1m2 0h1m4 0h1m7 0h1m4 0h2m2 0h1m2 0h1m2 0h1m1 0h2m1 0h1m1 0h2m3 0h4m2 0h5m1 0h4m1 0h9m2 0h3m1 0h2m1 0h2m3 0h1m1 0h1m1 0h3m2 0h1m1 0h2m11 0h2M356 790.5h1m2 0h1m2 0h1m4 0h1m5 0h2m2 0h3m3 0h7m2 0h2m1 0h1m1 0h2m1 0h3m1 0h5m1 0h2m1 0h1m1 0h1m1 0h4m1 0h1m2 0h5m1 0h8m1 0h1m1 0h1m1 0h1m1 0h2m2 0h1m3 0h1M324 791.5h1m8 0h1m11 0h1m10 0h3m2 0h1m3 0h2m6 0h3m1 0h1m1 0h1m3 0h2m1 0h6m1 0h3m2 0h3m1 0h4m1 0h1m1 0h5m1 0h5m2 0h7m2 0h1m1 0h3m2 0h1m1 0h1m3 0h3m3 0h1m2 0h1M326 792.5h1m21 0h1m4 0h2m10 0h1m6 0h3m3 0h2m1 0h1m3 0h1m1 0h5m1 0h1m1 0h1m3 0h1m1 0h1m1 0h2m1 0h3m1 0h4m1 0h4m3 0h1m1 0h2m3 0h7m4 0h2m1 0h2m3 0h4m1 0h1M344 793.5h1m8 0h3m4 0h1m11 0h3m1 0h1m1 0h2m1 0h4m1 0h14m1 0h3m1 0h3m1 0h1m1 0h4m1 0h2m1 0h5m2 0h2m5 0h1m2 0h1m1 0h2m1 0h1m1 0h2m1 0h1m2 0h2m3 0h2M331 794.5h1m7 0h1m22 0h2m4 0h6m3 0h2m1 0h2m2 0h1m1 0h1m1 0h2m2 0h1m1 0h1m2 0h6m1 0h3m1 0h1m2 0h3m1 0h3m1 0h3m1 0h3m1 0h2m1 0h2m4 0h2m1 0h3m1 0h1m1 0h3m2 0h1m1 0h2m1 0h1m1 0h1m1 0h1M363 795.5h2m1 0h1m2 0h1m1 0h2m1 0h2m1 0h3m2 0h1m2 0h1m2 0h14m2 0h4m2 0h2m1 0h4m2 0h1m1 0h1m1 0h3m3 0h2m1 0h2m4 0h1m3 0h2m2 0h1m1 0h1m1 0h3m1 0h1m1 0h1M353 796.5h1m4 0h2m6 0h1m2 0h2m1 0h1m1 0h1m1 0h3m1 0h2m1 0h6m1 0h2m1 0h3m1 0h2m1 0h9m1 0h2m1 0h4m1 0h1m1 0h3m2 0h1m1 0h1m2 0h1m1 0h7m7 0h1m2 0h1m2 0h2M330 797.5h1m32 0h1m5 0h1m1 0h1m2 0h2m2 0h4m1 0h1m2 0h2m1 0h5m1 0h3m1 0h4m1 0h1m1 0h1m5 0h2m3 0h4m4 0h1m1 0h1m3 0h1m1 0h3m1 0h7m2 0h2m2 0h1m2 0h1m2 0h1M340 798.5h1m15 0h3m2 0h2m1 0h1m2 0h2m2 0h1m1 0h1m1 0h2m1 0h2m2 0h1m1 0h2m2 0h11m2 0h15m2 0h2m1 0h3m1 0h1m1 0h3m1 0h1m2 0h1m1 0h2m2 0h1m2 0h1m8 0h1m3 0h1M345 799.5h1m11 0h2m5 0h1m1 0h2m2 0h2m2 0h1m1 0h3m1 0h1m1 0h5m1 0h1m1 0h1m1 0h3m1 0h11m2 0h4m1 0h1m1 0h3m1 0h3m3 0h3m1 0h2m2 0h2m1 0h1m1 0h1m1 0h2m2 0h2m3 0h1m2 0h2M350 800.5h1m6 0h1m1 0h2m1 0h6m1 0h3m1 0h1m1 0h2m2 0h3m1 0h1m1 0h1m1 0h6m1 0h1m1 0h2m1 0h1m1 0h2m1 0h6m1 0h10m2 0h2m1 0h1m2 0h3m1 0h1m2 0h4m1 0h2m2 0h1m6 0h2m3 0h1M346 801.5h2m3 0h1m3 0h1m2 0h1m2 0h2m1 0h3m1 0h1m1 0h4m1 0h4m2 0h18m1 0h8m1 0h1m1 0h5m1 0h1m2 0h2m2 0h2m1 0h1m1 0h3m2 0h2m1 0h3m2 0h1m3 0h1m1 0h2m5 0h1M335 802.5h1m20 0h1m3 0h2m1 0h9m1 0h1m3 0h9m1 0h7m1 0h17m1 0h6m3 0h2m1 0h1m2 0h1m2 0h1m1 0h1m1 0h7m1 0h4m6 0h2m1 0h1M324 803.5h1m21 0h2m4 0h1m2 0h1m2 0h3m1 0h3m1 0h11m1 0h1m1 0h15m1 0h10m1 0h4m1 0h7m3 0h2m1 0h1m1 0h12m1 0h4m5 0h2m4 0h3M357 804.5h2m4 0h1m1 0h1m1 0h1m1 0h2m3 0h2m1 0h2m1 0h3m1 0h3m1 0h24m3 0h7m1 0h1m3 0h1m1 0h1m1 0h1m1 0h2m1 0h8m1 0h2m1 0h1M324 805.5h1m7 0h1m15 0h1m4 0h3m1 0h3m2 0h3m1 0h2m1 0h9m1 0h20m1 0h1m1 0h9m1 0h5m2 0h8m3 0h2m1 0h3m1 0h1m1 0h3m1 0h3m2 0h1m1 0h1m1 0h1m2 0h2M344 806.5h1m1 0h1m3 0h2m1 0h1m3 0h11m1 0h9m1 0h1m1 0h7m1 0h4m2 0h14m1 0h3m1 0h2m3 0h6m1 0h1m2 0h6m2 0h2m1 0h2m1 0h1m1 0h2m3 0h2M334 807.5h1m5 0h1m4 0h1m1 0h1m2 0h2m1 0h1m1 0h2m1 0h2m1 0h12m3 0h1m2 0h16m1 0h5m1 0h5m1 0h3m1 0h8m1 0h4m1 0h4m3 0h1m1 0h3m1 0h3m1 0h1m2 0h2m1 0h1m1 0h1M336 808.5h1m5 0h1m1 0h1m2 0h2m1 0h2m1 0h1m5 0h2m1 0h1m1 0h3m1 0h7m1 0h30m1 0h15m4 0h1m1 0h3m1 0h3m1 0h3m2 0h4m2 0h1m4 0h1M333 809.5h1m1 0h1m7 0h1m2 0h1m3 0h4m1 0h2m1 0h1m1 0h1m2 0h2m1 0h1m1 0h28m1 0h3m2 0h11m1 0h1m1 0h5m2 0h1m2 0h2m3 0h8m1 0h1m1 0h1m1 0h1m2 0h1m1 0h4M339 810.5h1m6 0h2m1 0h2m2 0h1m2 0h1m2 0h2m1 0h47m1 0h2m1 0h1m1 0h8m1 0h1m1 0h2m2 0h2m1 0h2m1 0h4m2 0h1m2 0h1m1 0h5M327 811.5h1m12 0h1m4 0h1m1 0h1m1 0h1m4 0h1m1 0h6m3 0h23m1 0h6m1 0h11m1 0h3m2 0h4m1 0h6m2 0h1m1 0h2m5 0h2m1 0h6m1 0h3m3 0h1m2 0h1M324 812.5h1m19 0h1m2 0h1m1 0h1m1 0h2m1 0h3m2 0h1m1 0h1m1 0h2m1 0h2m1 0h23m1 0h14m1 0h4m2 0h6m1 0h5m1 0h1m6 0h1m1 0h4m2 0h2m4 0h1M335 813.5h2m1 0h1m3 0h1m1 0h1m2 0h1m1 0h3m1 0h39m1 0h12m1 0h2m1 0h1m2 0h2m2 0h2m1 0h3m2 0h2m1 0h1m1 0h5m3 0h1m2 0h1m1 0h1m1 0h3m1 0h1m1 0h5m1 0h1M331 814.5h1m7 0h1m1 0h1m3 0h4m2 0h4m1 0h5m1 0h10m1 0h22m1 0h13m3 0h5m5 0h1m1 0h3m1 0h9m1 0h1m2 0h5m2 0h1m1 0h2m3 0h2m2 0h1M324 815.5h1m4 0h1m11 0h2m4 0h8m2 0h2m1 0h49m1 0h3m1 0h1m3 0h1m1 0h5m1 0h2m5 0h5m1 0h9m1 0h2m1 0h2m3 0h1M334 816.5h1m6 0h1m2 0h2m1 0h3m1 0h61m1 0h1m1 0h1m1 0h3m1 0h1m2 0h10m4 0h1m2 0h1m1 0h3m7 0h1m1 0h2M339 817.5h1m1 0h6m1 0h36m1 0h12m1 0h7m1 0h2m1 0h5m1 0h2m2 0h1m2 0h5m2 0h1m1 0h4m1 0h1m1 0h2m1 0h2m2 0h2m2 0h1m3 0h2m2 0h1M327 818.5h1m2 0h1m1 0h2m5 0h1m1 0h1m1 0h1m1 0h1m1 0h6m2 0h38m1 0h9m1 0h2m1 0h5m1 0h7m3 0h2m3 0h1m1 0h4m3 0h6m1 0h2m5 0h1m1 0h1M333 819.5h1m4 0h1m3 0h3m1 0h3m1 0h3m1 0h55m1 0h2m1 0h2m1 0h2m1 0h2m2 0h2m3 0h1m1 0h1m1 0h4m3 0h5m3 0h1m1 0h1m6 0h1M326 820.5h1m8 0h1m1 0h2m1 0h2m1 0h2m2 0h2m1 0h38m2 0h20m1 0h5m2 0h2m1 0h1m1 0h1m1 0h2m1 0h2m2 0h6m1 0h1m3 0h1m1 0h3m6 0h1M332 821.5h1m1 0h2m1 0h4m1 0h1m1 0h1m1 0h63m1 0h1m1 0h2m1 0h1m3 0h1m3 0h1m2 0h1m2 0h2m1 0h7m1 0h2m7 0h1m1 0h1m2 0h1M325 822.5h1m4 0h2m1 0h7m1 0h1m2 0h10m1 0h49m1 0h6m1 0h7m2 0h4m1 0h2m1 0h3m1 0h3m1 0h4m1 0h1m3 0h1m2 0h4m2 0h1m4 0h1M324 823.5h2m2 0h1m3 0h1m1 0h1m1 0h1m1 0h1m3 0h60m1 0h5m2 0h4m1 0h2m1 0h4m1 0h1m1 0h4m3 0h1m1 0h1m2 0h1m1 0h2m2 0h1m1 0h1m2 0h1m2 0h2M324 824.5h1m2 0h1m1 0h3m1 0h1m3 0h2m2 0h2m1 0h2m2 0h54m1 0h9m2 0h5m2 0h1m2 0h3m2 0h1m1 0h1m2 0h1m1 0h3m1 0h1m9 0h1m2 0h1M324 825.5h2m7 0h5m1 0h4m1 0h61m1 0h9m1 0h1m2 0h2m3 0h2m1 0h3m2 0h2m4 0h1m1 0h1m2 0h2m1 0h1m1 0h1m1 0h1m3 0h1m1 0h1M325 826.5h1m1 0h1m1 0h2m1 0h1m1 0h5m1 0h3m1 0h66m1 0h1m2 0h1m1 0h1m2 0h1m1 0h5m1 0h1m1 0h3m1 0h5m1 0h1m1 0h4m5 0h3M328 827.5h1m1 0h1m1 0h1m1 0h1m1 0h16m1 0h30m1 0h20m2 0h5m1 0h1m2 0h10m1 0h1m2 0h2m2 0h1m3 0h2m1 0h1m1 0h1m3 0h3m1 0h1m1 0h3M324 828.5h1m1 0h1m2 0h2m2 0h1m1 0h73m1 0h2m1 0h3m1 0h4m1 0h8m1 0h2m2 0h1m5 0h1m1 0h1m1 0h1m1 0h1m1 0h2m7 0h1M324 829.5h2m2 0h1m1 0h6m2 0h60m1 0h11m2 0h1m2 0h4m1 0h1m2 0h1m1 0h1m2 0h1m1 0h5m1 0h6m2 0h1m3 0h3m2 0h1m1 0h1m1 0h1M325 830.5h2m1 0h2m1 0h1m1 0h5m1 0h61m1 0h13m1 0h1m1 0h1m1 0h1m1 0h2m1 0h3m1 0h3m1 0h1m1 0h1m1 0h13m3 0h1m1 0h2M324 831.5h1m5 0h1m1 0h1m1 0h1m1 0h74m2 0h1m1 0h3m2 0h1m1 0h1m1 0h1m1 0h1m1 0h1m1 0h3m4 0h2m3 0h3m2 0h1m1 0h1m3 0h1m1 0h2M324 832.5h2m5 0h6m1 0h61m1 0h4m1 0h1m1 0h1m1 0h3m2 0h1m1 0h6m3 0h4m1 0h1m2 0h3m4 0h2m1 0h1m1 0h1m4 0h1m1 0h1m3 0h1m4 0h1M324 833.5h1m1 0h2m1 0h1m5 0h1m2 0h62m1 0h11m1 0h3m2 0h4m4 0h2m1 0h1m1 0h3m2 0h1m4 0h1m2 0h1m1 0h3m5 0h2M324 834.5h2m2 0h1m1 0h1m1 0h78m1 0h4m1 0h2m1 0h1m1 0h1m1 0h3m1 0h1m1 0h3m1 0h1m1 0h1m1 0h3m2 0h4m4 0h1M324 835.5h3m1 0h3m1 0h7m1 0h56m1 0h15m2 0h13m1 0h2m1 0h2m2 0h1m1 0h3m2 0h2m1 0h3m3 0h2m1 0h1M324 836.5h1m2 0h6m1 0h1m1 0h76m1 0h2m2 0h9m2 0h1m1 0h6m1 0h1m5 0h2m2 0h3m1 0h1M324 837.5h1m1 0h1m2 0h1m2 0h80m1 0h11m1 0h1m1 0h3m3 0h10m9 0h1m2 0h1M324 838.5h1m2 0h3m1 0h71m1 0h7m1 0h3m1 0h3m1 0h1m1 0h2m1 0h4m1 0h3m1 0h5m3 0h2m1 0h1m2 0h3m2 0h1M324 839.5h1m1 0h2m2 0h5m1 0h74m1 0h10m2 0h5m1 0h2m2 0h3m1 0h3m2 0h1m2 0h1m1 0h2m1 0h2M324 840.5h2m1 0h75m1 0h4m2 0h1m1 0h9m1 0h8m4 0h1m1 0h6m2 0h2m1 0h2m4 0h2m4 0h1M324 841.5h7m1 0h64m1 0h1m1 0h6m1 0h11m1 0h10m2 0h4m2 0h2m1 0h5m2 0h1m1 0h3m1 0h1M324 842.5h4m2 0h73m1 0h5m1 0h4m2 0h2m1 0h3m1 0h5m2 0h4m2 0h4m1 0h1m2 0h1m2 0h1m3 0h1M324 843.5h1m1 0h1m1 0h60m1 0h11m1 0h8m1 0h7m1 0h13m1 0h2m1 0h2m1 0h2m1 0h1m1 0h1m1 0h4m1 0h3m2 0h1M324 844.5h3m1 0h1m1 0h64m1 0h5m1 0h3m1 0h5m1 0h1m1 0h3m1 0h3m1 0h5m2 0h9m1 0h2m2 0h1m1 0h2m1 0h4m1 0h4M324 845.5h64m1 0h4m1 0h5m3 0h4m1 0h2m1 0h9m1 0h1m1 0h1m1 0h4m1 0h4m4 0h10m1 0h1m1 0h2m1 0h1M324 846.5h3m2 0h62m1 0h10m1 0h6m1 0h1m1 0h5m1 0h8m2 0h2m2 0h1m1 0h2m1 0h1m2 0h7m1 0h1m3 0h1m1 0h1m7 0h1M324 847.5h71m1 0h1m1 0h4m1 0h8m1 0h1m1 0h4m2 0h5m1 0h1m1 0h4m1 0h4m1 0h5m1 0h4M324 848.5h73m1 0h1m1 0h11m1 0h5m1 0h1m1 0h6m1 0h2m1 0h1m1 0h1m1 0h5m1 0h2m1 0h1m2 0h2m1 0h1m1 0h4M324 849.5h76m1 0h5m1 0h4m1 0h1m1 0h9m3 0h3m1 0h6m4 0h3m1 0h4m1 0h1m2 0h1m7 0h1M324 850.5h5m1 0h62m2 0h2m2 0h3m1 0h2m2 0h4m2 0h4m1 0h2m1 0h4m1 0h5m1 0h12m3 0h1m5 0h1m2 0h1m3 0h1M324 851.5h2m1 0h66m1 0h3m3 0h3m1 0h11m1 0h4m1 0h5m2 0h3m1 0h2m2 0h2m1 0h1m1 0h1m4 0h1m2 0h1m1 0h2m1 0h1m5 0h1M324 852.5h4m1 0h61m1 0h6m1 0h1m1 0h3m1 0h1m1 0h1m2 0h1m1 0h1m1 0h4m1 0h5m1 0h6m1 0h4m1 0h4m1 0h1m1 0h1m1 0h1m1 0h2m1 0h2M324 853.5h63m1 0h3m1 0h3m1 0h2m1 0h1m1 0h4m1 0h2m1 0h8m2 0h4m3 0h2m3 0h5m2 0h2m2 0h2m2 0h2m4 0h1m8 0h1M324 854.5h1m1 0h66m1 0h2m1 0h2m1 0h3m2 0h2m1 0h4m2 0h3m1 0h6m1 0h2m2 0h1m1 0h1m2 0h4m1 0h4m2 0h1m1 0h1m2 0h1M324 855.5h1m1 0h2m1 0h1m1 0h1m1 0h63m2 0h2m1 0h5m1 0h5m1 0h1m1 0h2m1 0h5m1 0h2m1 0h1m2 0h10m1 0h2m1 0h5m3 0h1m3 0h1m3 0h1M324 856.5h126m1 0h6m3 0h1" stroke="#0a0a0a" stroke-width="1" fill="none" filter="url(#soft)"/>
<g shape-rendering="crispEdges" fill="none" stroke="#1a1a1a" stroke-width="1">
<rect x="324.5" y="687.5" width="170" height="170"/>
<path d="M422.5 687V857 M324 771.5H494"/>
</g>
<path d="M324.5 857h-3M324 857.5v2.2M324.5 844.2h-2M336.8 857.5v1.2M324.5 836.7h-2M344.3 857.5v1.2M324.5 831.4h-2M349.6 857.5v1.2M324.5 827.3h-2M353.7 857.5v1.2M324.5 823.9h-2M357.1 857.5v1.2M324.5 821.1h-2M359.9 857.5v1.2M324.5 818.6h-2M362.4 857.5v1.2M324.5 816.4h-2M364.6 857.5v1.2M324.5 814.5h-3M366.5 857.5v2.2M324.5 801.7h-2M379.3 857.5v1.2M324.5 794.2h-2M386.8 857.5v1.2M324.5 788.9h-2M392.1 857.5v1.2M324.5 784.8h-2M396.2 857.5v1.2M324.5 781.4h-2M399.6 857.5v1.2M324.5 778.6h-2M402.4 857.5v1.2M324.5 776.1h-2M404.9 857.5v1.2M324.5 773.9h-2M407.1 857.5v1.2M324.5 772h-3M409 857.5v2.2M324.5 759.2h-2M421.8 857.5v1.2M324.5 751.7h-2M429.3 857.5v1.2M324.5 746.4h-2M434.6 857.5v1.2M324.5 742.3h-2M438.7 857.5v1.2M324.5 738.9h-2M442.1 857.5v1.2M324.5 736.1h-2M444.9 857.5v1.2M324.5 733.6h-2M447.4 857.5v1.2M324.5 731.4h-2M449.6 857.5v1.2M324.5 729.5h-3M451.5 857.5v2.2M324.5 716.7h-2M464.3 857.5v1.2M324.5 709.2h-2M471.8 857.5v1.2M324.5 703.9h-2M477.1 857.5v1.2M324.5 699.8h-2M481.2 857.5v1.2M324.5 696.4h-2M484.6 857.5v1.2M324.5 693.6h-2M487.4 857.5v1.2M324.5 691.1h-2M489.9 857.5v1.2M324.5 688.9h-2M492.1 857.5v1.2" stroke="#111" stroke-width="1" fill="none"/>
<rect x="325" y="688" width="60" height="46" fill="#fff"/>
<path d="M355.5 687V734 M324 710.5H384.5" stroke="#1a1a1a" stroke-width="1" fill="none" shape-rendering="crispEdges"/>
<text x="332.18" y="706.2" font-size="20.3" textLength="11.69" lengthAdjust="spacingAndGlyphs">4</text>
<text x="361.87" y="706.2" font-size="20.3" textLength="11.74" lengthAdjust="spacingAndGlyphs">8</text>
<text x="327.37" y="729.6" font-size="20.3" textLength="23.47" lengthAdjust="spacingAndGlyphs">82</text>
<text x="363.75" y="729.6" font-size="20.3" textLength="11.98" lengthAdjust="spacingAndGlyphs">6</text>
<text transform="translate(100 857.2) rotate(-90)" x="-0.64" font-size="22" class="m" textLength="42.58" lengthAdjust="spacingAndGlyphs">CD8</text>
<path d="M92.6 811V696.5 M88 705L92.6 696.2L97.2 705" fill="none" stroke="#222" stroke-width="1.1"/>
<text x="111.81" y="883.9" font-size="21.5" textLength="66.32" lengthAdjust="spacingAndGlyphs" class="m">CD11c</text>
<path d="M187.5 877.5H495.3 M486.5 872L495.6 877.5L486.5 881.5" fill="none" stroke="#222" stroke-width="1.1"/>
</svg></body></html>
